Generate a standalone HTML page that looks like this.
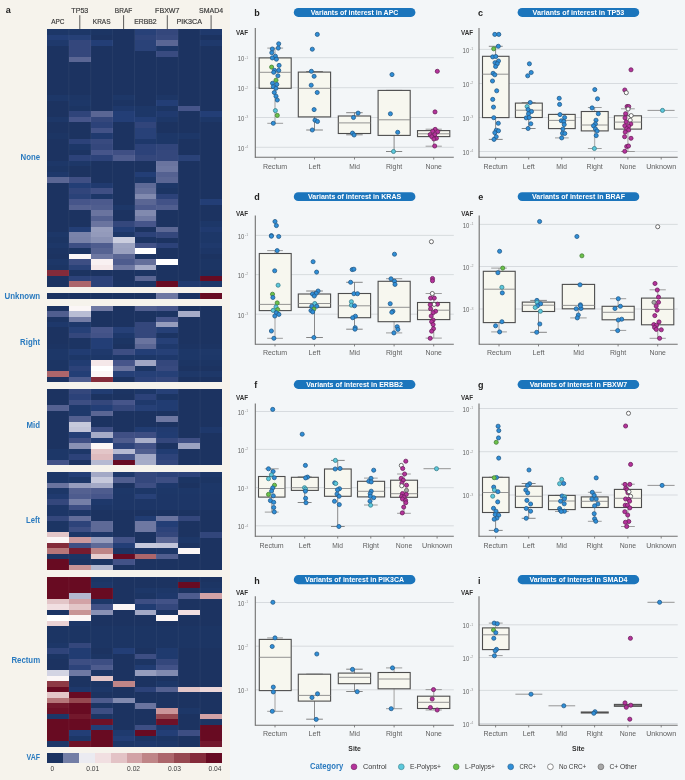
<!DOCTYPE html>
<html lang="en"><head><meta charset="utf-8"><title>Variants of interest by site</title>
<style>
html,body{margin:0;padding:0;background:#f3f6f8;}
body{width:685px;height:780px;overflow:hidden;}
svg{display:block;font-family:"Liberation Sans",Arial,sans-serif;}
.ax{fill:#5f5f5f;font-size:7.2px;}
.hl{fill:#2a7abf;font-size:8.3px;font-weight:bold;}
.gene{fill:#3c3c3c;font-size:7.6px;stroke:#3c3c3c;stroke-width:0.2px;}
.pl{fill:#222;font-size:9px;font-weight:bold;}
.vaf{fill:#333;font-size:7.2px;font-weight:bold;}
.pt{fill:#fff;font-size:7.8px;font-weight:bold;}
.lg{fill:#3a3a3a;font-size:7.2px;}
</style></head><body>
<svg width="685" height="780" viewBox="0 0 685 780">
<rect x="0" y="0" width="685" height="780" fill="#f3f6f8"/>
<rect x="0" y="0" width="230" height="780" fill="#f6f3ec"/>

<g shape-rendering="crispEdges">
<rect x="47.0" y="29.2" width="175.0" height="257.60" fill="#1c3361"/>
<rect x="47.00" y="29.20" width="43.75" height="5.53" fill="#1d3768"/>
<rect x="90.75" y="29.20" width="21.88" height="5.53" fill="#1c3564"/>
<rect x="134.50" y="29.20" width="21.88" height="5.53" fill="#284178"/>
<rect x="156.38" y="29.20" width="21.88" height="5.53" fill="#34477c"/>
<rect x="200.12" y="29.20" width="21.88" height="5.53" fill="#1f396c"/>
<rect x="47.00" y="34.68" width="21.88" height="5.53" fill="#233e76"/>
<rect x="68.88" y="34.68" width="21.88" height="5.53" fill="#264077"/>
<rect x="134.50" y="34.68" width="21.88" height="5.53" fill="#2f447a"/>
<rect x="156.38" y="34.68" width="21.88" height="5.53" fill="#384a7f"/>
<rect x="47.00" y="40.16" width="21.88" height="5.53" fill="#1f396c"/>
<rect x="68.88" y="40.16" width="21.88" height="5.53" fill="#34477c"/>
<rect x="90.75" y="40.16" width="21.88" height="5.53" fill="#233e76"/>
<rect x="134.50" y="40.16" width="21.88" height="5.53" fill="#2a4278"/>
<rect x="156.38" y="40.16" width="21.88" height="5.53" fill="#5a6694"/>
<rect x="200.12" y="40.16" width="21.88" height="5.53" fill="#1f396c"/>
<rect x="68.88" y="45.64" width="21.88" height="5.53" fill="#34477c"/>
<rect x="134.50" y="45.64" width="21.88" height="5.53" fill="#2a4278"/>
<rect x="156.38" y="45.64" width="21.88" height="5.53" fill="#1d3768"/>
<rect x="68.88" y="51.12" width="21.88" height="5.53" fill="#34477c"/>
<rect x="156.38" y="51.12" width="21.88" height="5.53" fill="#394b80"/>
<rect x="68.88" y="56.60" width="21.88" height="5.53" fill="#5a6694"/>
<rect x="47.00" y="94.97" width="21.88" height="5.53" fill="#1d3768"/>
<rect x="68.88" y="94.97" width="21.88" height="5.53" fill="#1d3666"/>
<rect x="112.62" y="94.97" width="21.88" height="5.53" fill="#1d3768"/>
<rect x="156.38" y="94.97" width="21.88" height="5.53" fill="#1d3666"/>
<rect x="68.88" y="100.45" width="21.88" height="5.53" fill="#1d3768"/>
<rect x="112.62" y="100.45" width="21.88" height="5.53" fill="#1c3463"/>
<rect x="156.38" y="100.45" width="21.88" height="5.53" fill="#233e76"/>
<rect x="68.88" y="105.93" width="21.88" height="5.53" fill="#1c3564"/>
<rect x="112.62" y="105.93" width="21.88" height="5.53" fill="#1e386b"/>
<rect x="134.50" y="105.93" width="21.88" height="5.53" fill="#1d3768"/>
<rect x="156.38" y="105.93" width="21.88" height="5.53" fill="#1c3564"/>
<rect x="178.25" y="105.93" width="21.88" height="5.53" fill="#46558a"/>
<rect x="68.88" y="111.41" width="21.88" height="5.53" fill="#2f447a"/>
<rect x="90.75" y="111.41" width="21.88" height="5.53" fill="#5a6694"/>
<rect x="112.62" y="111.41" width="21.88" height="5.53" fill="#233e76"/>
<rect x="134.50" y="111.41" width="21.88" height="5.53" fill="#1d3768"/>
<rect x="156.38" y="111.41" width="21.88" height="5.53" fill="#203a6f"/>
<rect x="200.12" y="111.41" width="21.88" height="5.53" fill="#233e76"/>
<rect x="47.00" y="116.89" width="21.88" height="5.53" fill="#1d3768"/>
<rect x="68.88" y="116.89" width="21.88" height="5.53" fill="#46558a"/>
<rect x="90.75" y="116.89" width="21.88" height="5.53" fill="#34477c"/>
<rect x="112.62" y="116.89" width="43.75" height="5.53" fill="#233e76"/>
<rect x="156.38" y="116.89" width="21.88" height="5.53" fill="#1d3768"/>
<rect x="200.12" y="116.89" width="21.88" height="5.53" fill="#1d3768"/>
<rect x="90.75" y="122.37" width="21.88" height="5.53" fill="#2c4279"/>
<rect x="134.50" y="122.37" width="21.88" height="5.53" fill="#31457b"/>
<rect x="90.75" y="127.86" width="21.88" height="5.53" fill="#425287"/>
<rect x="134.50" y="127.86" width="21.88" height="5.53" fill="#284178"/>
<rect x="47.00" y="133.34" width="21.88" height="5.53" fill="#1c3564"/>
<rect x="90.75" y="133.34" width="21.88" height="5.53" fill="#203a6f"/>
<rect x="134.50" y="133.34" width="21.88" height="5.53" fill="#284178"/>
<rect x="156.38" y="133.34" width="43.75" height="5.53" fill="#1d3768"/>
<rect x="68.88" y="138.82" width="21.88" height="5.53" fill="#2c4279"/>
<rect x="90.75" y="138.82" width="21.88" height="5.53" fill="#384a7f"/>
<rect x="134.50" y="138.82" width="21.88" height="5.53" fill="#1e386b"/>
<rect x="156.38" y="138.82" width="21.88" height="5.53" fill="#1d3768"/>
<rect x="68.88" y="144.30" width="21.88" height="5.53" fill="#1d3768"/>
<rect x="90.75" y="144.30" width="21.88" height="5.53" fill="#34477c"/>
<rect x="134.50" y="144.30" width="21.88" height="5.53" fill="#2c4279"/>
<rect x="156.38" y="144.30" width="21.88" height="5.53" fill="#31457b"/>
<rect x="68.88" y="149.78" width="21.88" height="5.53" fill="#1c3463"/>
<rect x="90.75" y="149.78" width="21.88" height="5.53" fill="#46558a"/>
<rect x="112.62" y="149.78" width="21.88" height="5.53" fill="#3f4f84"/>
<rect x="134.50" y="149.78" width="21.88" height="5.53" fill="#2c4279"/>
<rect x="156.38" y="149.78" width="21.88" height="5.53" fill="#34477c"/>
<rect x="68.88" y="155.26" width="43.75" height="5.53" fill="#2c4279"/>
<rect x="112.62" y="155.26" width="21.88" height="5.53" fill="#4e5c8e"/>
<rect x="134.50" y="155.26" width="43.75" height="5.53" fill="#34477c"/>
<rect x="178.25" y="155.26" width="21.88" height="5.53" fill="#2a4278"/>
<rect x="47.00" y="160.74" width="43.75" height="5.53" fill="#1d3768"/>
<rect x="156.38" y="160.74" width="21.88" height="5.53" fill="#6a749f"/>
<rect x="47.00" y="166.22" width="21.88" height="5.53" fill="#1c3564"/>
<rect x="156.38" y="166.22" width="21.88" height="5.53" fill="#6e78a2"/>
<rect x="47.00" y="171.70" width="21.88" height="5.53" fill="#1e386b"/>
<rect x="134.50" y="171.70" width="21.88" height="5.53" fill="#233e76"/>
<rect x="156.38" y="171.70" width="21.88" height="5.53" fill="#546191"/>
<rect x="47.00" y="177.18" width="21.88" height="5.53" fill="#5a6694"/>
<rect x="68.88" y="177.18" width="21.88" height="5.53" fill="#3f4f84"/>
<rect x="134.50" y="177.18" width="21.88" height="5.53" fill="#1d3768"/>
<rect x="156.38" y="177.18" width="21.88" height="5.53" fill="#5a6694"/>
<rect x="68.88" y="182.66" width="21.88" height="5.53" fill="#233e76"/>
<rect x="90.75" y="182.66" width="21.88" height="5.53" fill="#203a6f"/>
<rect x="134.50" y="182.66" width="21.88" height="5.53" fill="#5e6a97"/>
<rect x="156.38" y="182.66" width="21.88" height="5.53" fill="#1d3768"/>
<rect x="68.88" y="188.14" width="21.88" height="5.53" fill="#31457b"/>
<rect x="90.75" y="188.14" width="21.88" height="5.53" fill="#3f4f84"/>
<rect x="134.50" y="188.14" width="21.88" height="5.53" fill="#66719c"/>
<rect x="156.38" y="188.14" width="21.88" height="5.53" fill="#1c3564"/>
<rect x="68.88" y="193.63" width="21.88" height="5.53" fill="#2a4278"/>
<rect x="90.75" y="193.63" width="21.88" height="5.53" fill="#1d3768"/>
<rect x="134.50" y="193.63" width="21.88" height="5.53" fill="#818aaf"/>
<rect x="156.38" y="193.63" width="21.88" height="5.53" fill="#2c4279"/>
<rect x="68.88" y="199.11" width="21.88" height="5.53" fill="#46558a"/>
<rect x="90.75" y="199.11" width="21.88" height="5.53" fill="#4c5a8d"/>
<rect x="134.50" y="199.11" width="21.88" height="5.53" fill="#5a6694"/>
<rect x="156.38" y="199.11" width="21.88" height="5.53" fill="#425287"/>
<rect x="200.12" y="199.11" width="21.88" height="5.53" fill="#233e76"/>
<rect x="68.88" y="204.59" width="21.88" height="5.53" fill="#546191"/>
<rect x="90.75" y="204.59" width="21.88" height="5.53" fill="#505e8f"/>
<rect x="112.62" y="204.59" width="21.88" height="5.53" fill="#1d3768"/>
<rect x="134.50" y="204.59" width="21.88" height="5.53" fill="#4c5a8d"/>
<rect x="156.38" y="204.59" width="21.88" height="5.53" fill="#505e8f"/>
<rect x="90.75" y="210.07" width="21.88" height="5.53" fill="#6a749f"/>
<rect x="134.50" y="210.07" width="21.88" height="5.53" fill="#818aaf"/>
<rect x="90.75" y="215.55" width="21.88" height="5.53" fill="#546191"/>
<rect x="134.50" y="215.55" width="21.88" height="5.53" fill="#707aa4"/>
<rect x="90.75" y="221.03" width="21.88" height="5.53" fill="#6a749f"/>
<rect x="112.62" y="221.03" width="21.88" height="5.53" fill="#34477c"/>
<rect x="134.50" y="221.03" width="21.88" height="5.53" fill="#46558a"/>
<rect x="200.12" y="221.03" width="21.88" height="5.53" fill="#1d3768"/>
<rect x="68.88" y="226.51" width="21.88" height="5.53" fill="#233e76"/>
<rect x="90.75" y="226.51" width="21.88" height="5.53" fill="#969dbd"/>
<rect x="112.62" y="226.51" width="21.88" height="5.53" fill="#233e76"/>
<rect x="156.38" y="226.51" width="21.88" height="5.53" fill="#5c6895"/>
<rect x="200.12" y="226.51" width="21.88" height="5.53" fill="#203a6f"/>
<rect x="47.00" y="231.99" width="21.88" height="5.53" fill="#1d3768"/>
<rect x="68.88" y="231.99" width="21.88" height="5.53" fill="#7a83aa"/>
<rect x="90.75" y="231.99" width="21.88" height="5.53" fill="#939abb"/>
<rect x="112.62" y="231.99" width="21.88" height="5.53" fill="#1d3768"/>
<rect x="134.50" y="231.99" width="21.88" height="5.53" fill="#2c4279"/>
<rect x="156.38" y="231.99" width="21.88" height="5.53" fill="#34477c"/>
<rect x="200.12" y="231.99" width="21.88" height="5.53" fill="#1d3768"/>
<rect x="47.00" y="237.47" width="21.88" height="5.53" fill="#1c3564"/>
<rect x="68.88" y="237.47" width="21.88" height="5.53" fill="#7881a8"/>
<rect x="90.75" y="237.47" width="21.88" height="5.53" fill="#8991b4"/>
<rect x="112.62" y="237.47" width="21.88" height="5.53" fill="#cbcedf"/>
<rect x="134.50" y="237.47" width="21.88" height="5.53" fill="#1c3463"/>
<rect x="200.12" y="237.47" width="21.88" height="5.53" fill="#1d3768"/>
<rect x="47.00" y="242.95" width="21.88" height="5.53" fill="#1d3768"/>
<rect x="68.88" y="242.95" width="21.88" height="5.53" fill="#3d4e83"/>
<rect x="90.75" y="242.95" width="21.88" height="5.53" fill="#4e5c8e"/>
<rect x="112.62" y="242.95" width="21.88" height="5.53" fill="#9ca3c1"/>
<rect x="134.50" y="242.95" width="21.88" height="5.53" fill="#425287"/>
<rect x="156.38" y="242.95" width="21.88" height="5.53" fill="#2c4279"/>
<rect x="200.12" y="242.95" width="21.88" height="5.53" fill="#1f396c"/>
<rect x="47.00" y="248.43" width="21.88" height="5.53" fill="#1c3463"/>
<rect x="68.88" y="248.43" width="21.88" height="5.53" fill="#1c3462"/>
<rect x="90.75" y="248.43" width="21.88" height="5.53" fill="#566392"/>
<rect x="112.62" y="248.43" width="21.88" height="5.53" fill="#99a0bf"/>
<rect x="134.50" y="248.43" width="21.88" height="5.53" fill="#ffffff"/>
<rect x="200.12" y="248.43" width="21.88" height="5.53" fill="#1d3667"/>
<rect x="68.88" y="253.91" width="21.88" height="5.53" fill="#fbf6f6"/>
<rect x="90.75" y="253.91" width="21.88" height="5.53" fill="#6e78a2"/>
<rect x="112.62" y="253.91" width="21.88" height="5.53" fill="#5a6694"/>
<rect x="134.50" y="253.91" width="21.88" height="5.53" fill="#1c3463"/>
<rect x="47.00" y="259.40" width="21.88" height="5.53" fill="#1d3768"/>
<rect x="68.88" y="259.40" width="21.88" height="5.53" fill="#3d4e83"/>
<rect x="90.75" y="259.40" width="21.88" height="5.53" fill="#f9f1f2"/>
<rect x="112.62" y="259.40" width="21.88" height="5.53" fill="#4e5c8e"/>
<rect x="134.50" y="259.40" width="21.88" height="5.53" fill="#646f9b"/>
<rect x="156.38" y="259.40" width="21.88" height="5.53" fill="#ffffff"/>
<rect x="200.12" y="259.40" width="21.88" height="5.53" fill="#1c3564"/>
<rect x="47.00" y="264.88" width="21.88" height="5.53" fill="#1c3564"/>
<rect x="68.88" y="264.88" width="21.88" height="5.53" fill="#2a4278"/>
<rect x="90.75" y="264.88" width="21.88" height="5.53" fill="#f5e8e9"/>
<rect x="112.62" y="264.88" width="21.88" height="5.53" fill="#6e78a2"/>
<rect x="134.50" y="264.88" width="21.88" height="5.53" fill="#a6acc8"/>
<rect x="200.12" y="264.88" width="21.88" height="5.53" fill="#1c3564"/>
<rect x="47.00" y="270.36" width="21.88" height="5.53" fill="#842b3a"/>
<rect x="134.50" y="270.36" width="21.88" height="5.53" fill="#1c3463"/>
<rect x="68.88" y="275.84" width="43.75" height="5.53" fill="#2c4279"/>
<rect x="134.50" y="275.84" width="21.88" height="5.53" fill="#5a6694"/>
<rect x="200.12" y="275.84" width="21.88" height="5.53" fill="#680b22"/>
<rect x="68.88" y="281.32" width="21.88" height="5.53" fill="#ac666b"/>
<rect x="90.75" y="281.32" width="21.88" height="5.53" fill="#2c4279"/>
<rect x="112.62" y="281.32" width="43.75" height="5.53" fill="#1c3463"/>
<rect x="156.38" y="281.32" width="21.88" height="5.53" fill="#680b22"/>
<rect x="178.25" y="281.32" width="21.88" height="5.53" fill="#203a6f"/>
<rect x="200.12" y="281.32" width="21.88" height="5.53" fill="#1d3768"/>
<rect x="47.0" y="292.9" width="175.0" height="6.00" fill="#1c3361"/>
<rect x="156.38" y="292.90" width="21.88" height="6.05" fill="#6e78a2"/>
<rect x="178.25" y="292.90" width="21.88" height="6.05" fill="#1c3463"/>
<rect x="200.12" y="292.90" width="21.88" height="6.05" fill="#680b22"/>
<rect x="47.0" y="305.6" width="175.0" height="76.40" fill="#1c3361"/>
<rect x="68.88" y="305.60" width="21.88" height="5.51" fill="#fbf6f6"/>
<rect x="90.75" y="305.60" width="21.88" height="5.51" fill="#6e78a2"/>
<rect x="134.50" y="305.60" width="21.88" height="5.51" fill="#505e8f"/>
<rect x="156.38" y="305.60" width="21.88" height="5.51" fill="#46558a"/>
<rect x="47.00" y="311.06" width="21.88" height="5.51" fill="#505e8f"/>
<rect x="68.88" y="311.06" width="21.88" height="5.51" fill="#b9bdd4"/>
<rect x="156.38" y="311.06" width="21.88" height="5.51" fill="#1c3463"/>
<rect x="178.25" y="311.06" width="21.88" height="5.51" fill="#a6acc8"/>
<rect x="47.00" y="316.51" width="21.88" height="5.51" fill="#1c3463"/>
<rect x="68.88" y="316.51" width="21.88" height="5.51" fill="#737ca5"/>
<rect x="156.38" y="316.51" width="21.88" height="5.51" fill="#46558a"/>
<rect x="47.00" y="321.97" width="43.75" height="5.51" fill="#1e386b"/>
<rect x="134.50" y="321.97" width="21.88" height="5.51" fill="#34477c"/>
<rect x="156.38" y="321.97" width="21.88" height="5.51" fill="#969dbd"/>
<rect x="68.88" y="327.43" width="21.88" height="5.51" fill="#264077"/>
<rect x="90.75" y="327.43" width="21.88" height="5.51" fill="#46558a"/>
<rect x="112.62" y="327.43" width="21.88" height="5.51" fill="#264077"/>
<rect x="134.50" y="327.43" width="21.88" height="5.51" fill="#34477c"/>
<rect x="156.38" y="327.43" width="21.88" height="5.51" fill="#264077"/>
<rect x="68.88" y="332.89" width="21.88" height="5.51" fill="#34477c"/>
<rect x="90.75" y="332.89" width="21.88" height="5.51" fill="#425287"/>
<rect x="112.62" y="332.89" width="21.88" height="5.51" fill="#1e386b"/>
<rect x="134.50" y="332.89" width="21.88" height="5.51" fill="#34477c"/>
<rect x="156.38" y="332.89" width="21.88" height="5.51" fill="#1c3463"/>
<rect x="68.88" y="338.34" width="21.88" height="5.51" fill="#1c3463"/>
<rect x="90.75" y="338.34" width="21.88" height="5.51" fill="#233e76"/>
<rect x="112.62" y="338.34" width="21.88" height="5.51" fill="#1c3564"/>
<rect x="134.50" y="338.34" width="21.88" height="5.51" fill="#6a749f"/>
<rect x="156.38" y="338.34" width="21.88" height="5.51" fill="#264077"/>
<rect x="47.00" y="343.80" width="43.75" height="5.51" fill="#1c3463"/>
<rect x="90.75" y="343.80" width="21.88" height="5.51" fill="#233e76"/>
<rect x="134.50" y="343.80" width="21.88" height="5.51" fill="#5a6694"/>
<rect x="156.38" y="343.80" width="21.88" height="5.51" fill="#1f396c"/>
<rect x="178.25" y="343.80" width="43.75" height="5.51" fill="#1c3463"/>
<rect x="47.00" y="349.26" width="21.88" height="5.51" fill="#1d3768"/>
<rect x="68.88" y="349.26" width="21.88" height="5.51" fill="#213c72"/>
<rect x="90.75" y="349.26" width="21.88" height="5.51" fill="#1f396c"/>
<rect x="112.62" y="349.26" width="21.88" height="5.51" fill="#3d4e83"/>
<rect x="134.50" y="349.26" width="21.88" height="5.51" fill="#233e76"/>
<rect x="156.38" y="349.26" width="21.88" height="5.51" fill="#264077"/>
<rect x="178.25" y="349.26" width="21.88" height="5.51" fill="#1d3768"/>
<rect x="200.12" y="349.26" width="21.88" height="5.51" fill="#1e3869"/>
<rect x="47.00" y="354.71" width="109.38" height="5.51" fill="#1d3768"/>
<rect x="156.38" y="354.71" width="21.88" height="5.51" fill="#1e386b"/>
<rect x="178.25" y="354.71" width="43.75" height="5.51" fill="#1d3768"/>
<rect x="47.00" y="360.17" width="21.88" height="5.51" fill="#1c3564"/>
<rect x="68.88" y="360.17" width="21.88" height="5.51" fill="#213c72"/>
<rect x="90.75" y="360.17" width="21.88" height="5.51" fill="#f5e8e9"/>
<rect x="112.62" y="360.17" width="21.88" height="5.51" fill="#46558a"/>
<rect x="134.50" y="360.17" width="21.88" height="5.51" fill="#a0a6c4"/>
<rect x="156.38" y="360.17" width="21.88" height="5.51" fill="#34477c"/>
<rect x="178.25" y="360.17" width="43.75" height="5.51" fill="#1c3564"/>
<rect x="47.00" y="365.63" width="21.88" height="5.51" fill="#1c3564"/>
<rect x="68.88" y="365.63" width="21.88" height="5.51" fill="#2c4279"/>
<rect x="90.75" y="365.63" width="21.88" height="5.51" fill="#ffffff"/>
<rect x="112.62" y="365.63" width="21.88" height="5.51" fill="#6a749f"/>
<rect x="134.50" y="365.63" width="21.88" height="5.51" fill="#1c3564"/>
<rect x="156.38" y="365.63" width="21.88" height="5.51" fill="#384a7f"/>
<rect x="47.00" y="371.09" width="21.88" height="5.51" fill="#ac666b"/>
<rect x="68.88" y="371.09" width="21.88" height="5.51" fill="#233e76"/>
<rect x="90.75" y="371.09" width="21.88" height="5.51" fill="#fbf6f6"/>
<rect x="112.62" y="371.09" width="65.62" height="5.51" fill="#264077"/>
<rect x="178.25" y="371.09" width="43.75" height="5.51" fill="#1e3869"/>
<rect x="68.88" y="376.54" width="21.88" height="5.51" fill="#4e5c8e"/>
<rect x="90.75" y="376.54" width="21.88" height="5.51" fill="#842b3a"/>
<rect x="134.50" y="376.54" width="21.88" height="5.51" fill="#2d437a"/>
<rect x="156.38" y="376.54" width="21.88" height="5.51" fill="#34477c"/>
<rect x="47.0" y="388.8" width="175.0" height="76.40" fill="#1c3361"/>
<rect x="68.88" y="388.80" width="21.88" height="5.51" fill="#34477c"/>
<rect x="90.75" y="388.80" width="21.88" height="5.51" fill="#213c72"/>
<rect x="112.62" y="388.80" width="21.88" height="5.51" fill="#1c3463"/>
<rect x="134.50" y="388.80" width="21.88" height="5.51" fill="#1d3768"/>
<rect x="156.38" y="388.80" width="21.88" height="5.51" fill="#264077"/>
<rect x="68.88" y="394.26" width="21.88" height="5.51" fill="#2c4279"/>
<rect x="134.50" y="394.26" width="21.88" height="5.51" fill="#2c4279"/>
<rect x="156.38" y="394.26" width="21.88" height="5.51" fill="#1c3564"/>
<rect x="68.88" y="399.71" width="21.88" height="5.51" fill="#3d4e83"/>
<rect x="90.75" y="399.71" width="21.88" height="5.51" fill="#34477c"/>
<rect x="112.62" y="399.71" width="21.88" height="5.51" fill="#46558a"/>
<rect x="134.50" y="399.71" width="21.88" height="5.51" fill="#1f396c"/>
<rect x="156.38" y="399.71" width="21.88" height="5.51" fill="#213c72"/>
<rect x="47.00" y="405.17" width="21.88" height="5.51" fill="#546191"/>
<rect x="68.88" y="405.17" width="21.88" height="5.51" fill="#1e386b"/>
<rect x="90.75" y="405.17" width="21.88" height="5.51" fill="#233e76"/>
<rect x="112.62" y="405.17" width="21.88" height="5.51" fill="#34477c"/>
<rect x="134.50" y="405.17" width="21.88" height="5.51" fill="#264077"/>
<rect x="156.38" y="405.17" width="21.88" height="5.51" fill="#213c72"/>
<rect x="68.88" y="410.63" width="21.88" height="5.51" fill="#1e386b"/>
<rect x="90.75" y="410.63" width="21.88" height="5.51" fill="#5a6694"/>
<rect x="68.88" y="416.09" width="21.88" height="5.51" fill="#525f90"/>
<rect x="156.38" y="416.09" width="21.88" height="5.51" fill="#6e78a2"/>
<rect x="68.88" y="421.54" width="21.88" height="5.51" fill="#c6c9dc"/>
<rect x="68.88" y="427.00" width="21.88" height="5.51" fill="#c0c3d8"/>
<rect x="90.75" y="427.00" width="21.88" height="5.51" fill="#3d4e83"/>
<rect x="134.50" y="427.00" width="21.88" height="5.51" fill="#213c72"/>
<rect x="156.38" y="427.00" width="21.88" height="5.51" fill="#213b70"/>
<rect x="200.12" y="427.00" width="21.88" height="5.51" fill="#1e386b"/>
<rect x="68.88" y="432.46" width="21.88" height="5.51" fill="#233e76"/>
<rect x="90.75" y="432.46" width="21.88" height="5.51" fill="#a6acc8"/>
<rect x="112.62" y="432.46" width="21.88" height="5.51" fill="#3f4f84"/>
<rect x="134.50" y="432.46" width="21.88" height="5.51" fill="#3d4e83"/>
<rect x="156.38" y="432.46" width="21.88" height="5.51" fill="#213c72"/>
<rect x="68.88" y="437.91" width="21.88" height="5.51" fill="#3f4f84"/>
<rect x="90.75" y="437.91" width="21.88" height="5.51" fill="#233e76"/>
<rect x="112.62" y="437.91" width="21.88" height="5.51" fill="#4e5c8e"/>
<rect x="134.50" y="437.91" width="21.88" height="5.51" fill="#a9afca"/>
<rect x="156.38" y="437.91" width="21.88" height="5.51" fill="#34477c"/>
<rect x="178.25" y="437.91" width="21.88" height="5.51" fill="#3f4f84"/>
<rect x="68.88" y="443.37" width="21.88" height="5.51" fill="#8991b4"/>
<rect x="90.75" y="443.37" width="21.88" height="5.51" fill="#fbf6f6"/>
<rect x="112.62" y="443.37" width="21.88" height="5.51" fill="#2d437a"/>
<rect x="134.50" y="443.37" width="21.88" height="5.51" fill="#425287"/>
<rect x="178.25" y="443.37" width="21.88" height="5.51" fill="#9ca3c1"/>
<rect x="47.00" y="448.83" width="43.75" height="5.51" fill="#1d3768"/>
<rect x="90.75" y="448.83" width="21.88" height="5.51" fill="#e3c6c8"/>
<rect x="112.62" y="448.83" width="21.88" height="5.51" fill="#b6bad2"/>
<rect x="134.50" y="448.83" width="21.88" height="5.51" fill="#505e8f"/>
<rect x="156.38" y="448.83" width="21.88" height="5.51" fill="#213c72"/>
<rect x="47.00" y="454.29" width="21.88" height="5.51" fill="#1d3768"/>
<rect x="68.88" y="454.29" width="21.88" height="5.51" fill="#2c4279"/>
<rect x="90.75" y="454.29" width="21.88" height="5.51" fill="#debbbe"/>
<rect x="112.62" y="454.29" width="21.88" height="5.51" fill="#46558a"/>
<rect x="134.50" y="454.29" width="21.88" height="5.51" fill="#a3a9c6"/>
<rect x="156.38" y="454.29" width="21.88" height="5.51" fill="#2d437a"/>
<rect x="47.00" y="459.74" width="21.88" height="5.51" fill="#425287"/>
<rect x="90.75" y="459.74" width="21.88" height="5.51" fill="#b6bad2"/>
<rect x="112.62" y="459.74" width="21.88" height="5.51" fill="#680b22"/>
<rect x="134.50" y="459.74" width="21.88" height="5.51" fill="#a6acc8"/>
<rect x="156.38" y="459.74" width="21.88" height="5.51" fill="#34477c"/>
<rect x="47.0" y="471.8" width="175.0" height="98.50" fill="#1c3361"/>
<rect x="47.00" y="471.80" width="21.88" height="5.52" fill="#1d3768"/>
<rect x="68.88" y="471.80" width="21.88" height="5.52" fill="#233e76"/>
<rect x="90.75" y="471.80" width="21.88" height="5.52" fill="#a3a9c6"/>
<rect x="112.62" y="471.80" width="21.88" height="5.52" fill="#1e386b"/>
<rect x="134.50" y="471.80" width="21.88" height="5.52" fill="#34477c"/>
<rect x="156.38" y="471.80" width="43.75" height="5.52" fill="#2d437a"/>
<rect x="200.12" y="471.80" width="21.88" height="5.52" fill="#1d3768"/>
<rect x="47.00" y="477.27" width="43.75" height="5.52" fill="#1d3768"/>
<rect x="90.75" y="477.27" width="21.88" height="5.52" fill="#c6c9dc"/>
<rect x="112.62" y="477.27" width="21.88" height="5.52" fill="#505e8f"/>
<rect x="134.50" y="477.27" width="21.88" height="5.52" fill="#34477c"/>
<rect x="156.38" y="477.27" width="21.88" height="5.52" fill="#3d4e83"/>
<rect x="178.25" y="477.27" width="43.75" height="5.52" fill="#1c3564"/>
<rect x="47.00" y="482.74" width="21.88" height="5.52" fill="#6a749f"/>
<rect x="68.88" y="482.74" width="21.88" height="5.52" fill="#969dbd"/>
<rect x="90.75" y="482.74" width="21.88" height="5.52" fill="#a3a9c6"/>
<rect x="134.50" y="482.74" width="21.88" height="5.52" fill="#3d4e83"/>
<rect x="156.38" y="482.74" width="21.88" height="5.52" fill="#1e386b"/>
<rect x="200.12" y="482.74" width="21.88" height="5.52" fill="#1d3768"/>
<rect x="47.00" y="488.22" width="21.88" height="5.52" fill="#1d3768"/>
<rect x="68.88" y="488.22" width="21.88" height="5.52" fill="#546191"/>
<rect x="90.75" y="488.22" width="21.88" height="5.52" fill="#4e5c8e"/>
<rect x="112.62" y="488.22" width="109.38" height="5.52" fill="#1d3768"/>
<rect x="47.00" y="493.69" width="21.88" height="5.52" fill="#203a6f"/>
<rect x="68.88" y="493.69" width="21.88" height="5.52" fill="#4e5c8e"/>
<rect x="90.75" y="493.69" width="21.88" height="5.52" fill="#46558a"/>
<rect x="112.62" y="493.69" width="21.88" height="5.52" fill="#1d3667"/>
<rect x="134.50" y="493.69" width="21.88" height="5.52" fill="#284178"/>
<rect x="156.38" y="493.69" width="65.62" height="5.52" fill="#1d3667"/>
<rect x="47.00" y="499.16" width="21.88" height="5.52" fill="#34477c"/>
<rect x="68.88" y="499.16" width="21.88" height="5.52" fill="#757fa7"/>
<rect x="90.75" y="499.16" width="21.88" height="5.52" fill="#1e386b"/>
<rect x="112.62" y="499.16" width="109.38" height="5.52" fill="#1d3667"/>
<rect x="47.00" y="504.63" width="21.88" height="5.52" fill="#1d3667"/>
<rect x="68.88" y="504.63" width="21.88" height="5.52" fill="#3d4e83"/>
<rect x="90.75" y="504.63" width="131.25" height="5.52" fill="#1d3667"/>
<rect x="47.00" y="510.11" width="43.75" height="5.52" fill="#1d3667"/>
<rect x="47.00" y="515.58" width="21.88" height="5.52" fill="#34477c"/>
<rect x="68.88" y="515.58" width="21.88" height="5.52" fill="#626d9a"/>
<rect x="134.50" y="515.58" width="21.88" height="5.52" fill="#213c72"/>
<rect x="156.38" y="515.58" width="21.88" height="5.52" fill="#6a749f"/>
<rect x="178.25" y="515.58" width="21.88" height="5.52" fill="#34477c"/>
<rect x="47.00" y="521.05" width="21.88" height="5.52" fill="#1c3564"/>
<rect x="68.88" y="521.05" width="21.88" height="5.52" fill="#2d437a"/>
<rect x="90.75" y="521.05" width="21.88" height="5.52" fill="#5e6a97"/>
<rect x="134.50" y="521.05" width="21.88" height="5.52" fill="#6e78a2"/>
<rect x="156.38" y="521.05" width="21.88" height="5.52" fill="#233e76"/>
<rect x="47.00" y="526.52" width="21.88" height="5.52" fill="#1c3564"/>
<rect x="68.88" y="526.52" width="21.88" height="5.52" fill="#3d4e83"/>
<rect x="90.75" y="526.52" width="21.88" height="5.52" fill="#5e6a97"/>
<rect x="134.50" y="526.52" width="21.88" height="5.52" fill="#6e78a2"/>
<rect x="156.38" y="526.52" width="21.88" height="5.52" fill="#2d437a"/>
<rect x="47.00" y="531.99" width="21.88" height="5.52" fill="#e3c6c8"/>
<rect x="68.88" y="531.99" width="21.88" height="5.52" fill="#1d3667"/>
<rect x="90.75" y="531.99" width="21.88" height="5.52" fill="#1d3768"/>
<rect x="156.38" y="531.99" width="21.88" height="5.52" fill="#34477c"/>
<rect x="200.12" y="531.99" width="21.88" height="5.52" fill="#32467b"/>
<rect x="47.00" y="537.47" width="21.88" height="5.52" fill="#fbf6f6"/>
<rect x="68.88" y="537.47" width="21.88" height="5.52" fill="#cc999d"/>
<rect x="90.75" y="537.47" width="21.88" height="5.52" fill="#969dbd"/>
<rect x="112.62" y="537.47" width="21.88" height="5.52" fill="#425287"/>
<rect x="156.38" y="537.47" width="21.88" height="5.52" fill="#5a6694"/>
<rect x="178.25" y="537.47" width="21.88" height="5.52" fill="#1d3768"/>
<rect x="47.00" y="542.94" width="21.88" height="5.52" fill="#842b3a"/>
<rect x="68.88" y="542.94" width="21.88" height="5.52" fill="#3f4f84"/>
<rect x="90.75" y="542.94" width="21.88" height="5.52" fill="#5e6a97"/>
<rect x="112.62" y="542.94" width="21.88" height="5.52" fill="#233e76"/>
<rect x="134.50" y="542.94" width="21.88" height="5.52" fill="#c6c9dc"/>
<rect x="156.38" y="542.94" width="21.88" height="5.52" fill="#c3c6da"/>
<rect x="47.00" y="548.41" width="21.88" height="5.52" fill="#b67679"/>
<rect x="68.88" y="548.41" width="21.88" height="5.52" fill="#761b2e"/>
<rect x="90.75" y="548.41" width="21.88" height="5.52" fill="#bf8587"/>
<rect x="112.62" y="548.41" width="21.88" height="5.52" fill="#1c3564"/>
<rect x="134.50" y="548.41" width="43.75" height="5.52" fill="#1d3768"/>
<rect x="178.25" y="548.41" width="21.88" height="5.52" fill="#fbf6f6"/>
<rect x="47.00" y="553.88" width="43.75" height="5.52" fill="#1c3564"/>
<rect x="90.75" y="553.88" width="21.88" height="5.52" fill="#e7ced0"/>
<rect x="112.62" y="553.88" width="21.88" height="5.52" fill="#680b22"/>
<rect x="134.50" y="553.88" width="21.88" height="5.52" fill="#ac666b"/>
<rect x="156.38" y="553.88" width="21.88" height="5.52" fill="#505e8f"/>
<rect x="47.00" y="559.36" width="21.88" height="5.52" fill="#680b22"/>
<rect x="90.75" y="559.36" width="21.88" height="5.52" fill="#1c3564"/>
<rect x="112.62" y="559.36" width="21.88" height="5.52" fill="#425287"/>
<rect x="47.00" y="564.83" width="21.88" height="5.52" fill="#680b22"/>
<rect x="68.88" y="564.83" width="21.88" height="5.52" fill="#c89496"/>
<rect x="90.75" y="564.83" width="21.88" height="5.52" fill="#b3b8d0"/>
<rect x="47.0" y="577.0" width="175.0" height="169.80" fill="#1c3361"/>
<rect x="47.00" y="577.00" width="43.75" height="5.53" fill="#680b22"/>
<rect x="90.75" y="577.00" width="21.88" height="5.53" fill="#1c3564"/>
<rect x="47.00" y="582.48" width="43.75" height="5.53" fill="#680b22"/>
<rect x="90.75" y="582.48" width="21.88" height="5.53" fill="#1d3768"/>
<rect x="178.25" y="582.48" width="21.88" height="5.53" fill="#680b22"/>
<rect x="200.12" y="582.48" width="21.88" height="5.53" fill="#1c3564"/>
<rect x="47.00" y="587.95" width="65.62" height="5.53" fill="#680b22"/>
<rect x="134.50" y="587.95" width="43.75" height="5.53" fill="#1d3768"/>
<rect x="200.12" y="587.95" width="21.88" height="5.53" fill="#1d3768"/>
<rect x="47.00" y="593.43" width="21.88" height="5.53" fill="#680b22"/>
<rect x="68.88" y="593.43" width="21.88" height="5.53" fill="#b3b8d0"/>
<rect x="90.75" y="593.43" width="21.88" height="5.53" fill="#680b22"/>
<rect x="134.50" y="593.43" width="21.88" height="5.53" fill="#1c3564"/>
<rect x="156.38" y="593.43" width="21.88" height="5.53" fill="#1e386b"/>
<rect x="178.25" y="593.43" width="21.88" height="5.53" fill="#4e5c8e"/>
<rect x="200.12" y="593.43" width="21.88" height="5.53" fill="#d2a2a6"/>
<rect x="47.00" y="598.91" width="21.88" height="5.53" fill="#e3c6c8"/>
<rect x="68.88" y="598.91" width="21.88" height="5.53" fill="#d2a2a6"/>
<rect x="90.75" y="598.91" width="21.88" height="5.53" fill="#1d3768"/>
<rect x="134.50" y="598.91" width="21.88" height="5.53" fill="#3d4e83"/>
<rect x="156.38" y="598.91" width="21.88" height="5.53" fill="#425287"/>
<rect x="47.00" y="604.39" width="21.88" height="5.53" fill="#f1dfe1"/>
<rect x="68.88" y="604.39" width="21.88" height="5.53" fill="#e3c6c8"/>
<rect x="90.75" y="604.39" width="21.88" height="5.53" fill="#425287"/>
<rect x="112.62" y="604.39" width="21.88" height="5.53" fill="#fbf6f6"/>
<rect x="134.50" y="604.39" width="21.88" height="5.53" fill="#213c72"/>
<rect x="156.38" y="604.39" width="21.88" height="5.53" fill="#34477c"/>
<rect x="47.00" y="609.86" width="21.88" height="5.53" fill="#1c3564"/>
<rect x="68.88" y="609.86" width="21.88" height="5.53" fill="#c89496"/>
<rect x="90.75" y="609.86" width="21.88" height="5.53" fill="#8991b4"/>
<rect x="134.50" y="609.86" width="21.88" height="5.53" fill="#a3a9c6"/>
<rect x="178.25" y="609.86" width="21.88" height="5.53" fill="#f1dfe1"/>
<rect x="47.00" y="615.34" width="21.88" height="5.53" fill="#ffffff"/>
<rect x="68.88" y="615.34" width="21.88" height="5.53" fill="#fbf6f6"/>
<rect x="156.38" y="615.34" width="21.88" height="5.53" fill="#fbf6f6"/>
<rect x="47.00" y="620.82" width="21.88" height="5.53" fill="#ead2d4"/>
<rect x="68.88" y="620.82" width="21.88" height="5.53" fill="#1d3768"/>
<rect x="47.00" y="626.30" width="175.00" height="5.53" fill="#1c3564"/>
<rect x="47.00" y="631.77" width="175.00" height="5.53" fill="#1c3564"/>
<rect x="47.00" y="637.25" width="175.00" height="5.53" fill="#1c3564"/>
<rect x="47.00" y="642.73" width="21.88" height="5.53" fill="#1d3768"/>
<rect x="68.88" y="642.73" width="21.88" height="5.53" fill="#34477c"/>
<rect x="90.75" y="642.73" width="131.25" height="5.53" fill="#1c3564"/>
<rect x="47.00" y="648.21" width="21.88" height="5.53" fill="#2f447a"/>
<rect x="68.88" y="648.21" width="21.88" height="5.53" fill="#213c72"/>
<rect x="112.62" y="648.21" width="21.88" height="5.53" fill="#233e76"/>
<rect x="156.38" y="648.21" width="21.88" height="5.53" fill="#1f3a6e"/>
<rect x="47.00" y="653.68" width="21.88" height="5.53" fill="#1c3564"/>
<rect x="68.88" y="653.68" width="21.88" height="5.53" fill="#213c72"/>
<rect x="90.75" y="653.68" width="21.88" height="5.53" fill="#1c3564"/>
<rect x="134.50" y="653.68" width="21.88" height="5.53" fill="#3d4e83"/>
<rect x="156.38" y="653.68" width="21.88" height="5.53" fill="#1f3a6e"/>
<rect x="68.88" y="659.16" width="43.75" height="5.53" fill="#3d4e83"/>
<rect x="134.50" y="659.16" width="21.88" height="5.53" fill="#1c3564"/>
<rect x="156.38" y="659.16" width="21.88" height="5.53" fill="#34477c"/>
<rect x="68.88" y="664.64" width="21.88" height="5.53" fill="#2d437a"/>
<rect x="90.75" y="664.64" width="21.88" height="5.53" fill="#4e5c8e"/>
<rect x="134.50" y="664.64" width="21.88" height="5.53" fill="#213c72"/>
<rect x="156.38" y="664.64" width="21.88" height="5.53" fill="#425287"/>
<rect x="47.00" y="670.12" width="21.88" height="5.53" fill="#d3d4e3"/>
<rect x="68.88" y="670.12" width="21.88" height="5.53" fill="#6e78a2"/>
<rect x="90.75" y="670.12" width="21.88" height="5.53" fill="#1c3564"/>
<rect x="134.50" y="670.12" width="21.88" height="5.53" fill="#969dbd"/>
<rect x="156.38" y="670.12" width="21.88" height="5.53" fill="#818aaf"/>
<rect x="47.00" y="675.59" width="21.88" height="5.53" fill="#fbf6f6"/>
<rect x="90.75" y="675.59" width="21.88" height="5.53" fill="#e3c6c8"/>
<rect x="47.00" y="681.07" width="21.88" height="5.53" fill="#8d3a45"/>
<rect x="90.75" y="681.07" width="21.88" height="5.53" fill="#1c3564"/>
<rect x="112.62" y="681.07" width="21.88" height="5.53" fill="#bf8587"/>
<rect x="156.38" y="681.07" width="21.88" height="5.53" fill="#1d3768"/>
<rect x="47.00" y="686.55" width="21.88" height="5.53" fill="#680b22"/>
<rect x="68.88" y="686.55" width="21.88" height="5.53" fill="#1e386b"/>
<rect x="90.75" y="686.55" width="21.88" height="5.53" fill="#1d3768"/>
<rect x="134.50" y="686.55" width="21.88" height="5.53" fill="#2c4279"/>
<rect x="156.38" y="686.55" width="21.88" height="5.53" fill="#546191"/>
<rect x="178.25" y="686.55" width="21.88" height="5.53" fill="#e3c6c8"/>
<rect x="200.12" y="686.55" width="21.88" height="5.53" fill="#edd8da"/>
<rect x="47.00" y="692.03" width="21.88" height="5.53" fill="#e3c6c8"/>
<rect x="68.88" y="692.03" width="21.88" height="5.53" fill="#680b22"/>
<rect x="47.00" y="697.50" width="21.88" height="5.53" fill="#b67679"/>
<rect x="68.88" y="697.50" width="21.88" height="5.53" fill="#964850"/>
<rect x="90.75" y="697.50" width="21.88" height="5.53" fill="#4e5c8e"/>
<rect x="112.62" y="697.50" width="21.88" height="5.53" fill="#818aaf"/>
<rect x="47.00" y="702.98" width="21.88" height="5.53" fill="#73182c"/>
<rect x="68.88" y="702.98" width="21.88" height="5.53" fill="#680b22"/>
<rect x="90.75" y="702.98" width="21.88" height="5.53" fill="#1c3564"/>
<rect x="134.50" y="702.98" width="21.88" height="5.53" fill="#6a749f"/>
<rect x="47.00" y="708.46" width="21.88" height="5.53" fill="#6e1127"/>
<rect x="68.88" y="708.46" width="21.88" height="5.53" fill="#680b22"/>
<rect x="90.75" y="708.46" width="21.88" height="5.53" fill="#3d4e83"/>
<rect x="156.38" y="708.46" width="21.88" height="5.53" fill="#ca969a"/>
<rect x="178.25" y="708.46" width="21.88" height="5.53" fill="#1d3768"/>
<rect x="47.00" y="713.94" width="21.88" height="5.53" fill="#1d3768"/>
<rect x="68.88" y="713.94" width="21.88" height="5.53" fill="#73182c"/>
<rect x="90.75" y="713.94" width="21.88" height="5.53" fill="#1c3564"/>
<rect x="156.38" y="713.94" width="21.88" height="5.53" fill="#964850"/>
<rect x="200.12" y="713.94" width="21.88" height="5.53" fill="#d2a2a6"/>
<rect x="47.00" y="719.41" width="43.75" height="5.53" fill="#680b22"/>
<rect x="90.75" y="719.41" width="21.88" height="5.53" fill="#6e1127"/>
<rect x="156.38" y="719.41" width="21.88" height="5.53" fill="#6e1127"/>
<rect x="200.12" y="719.41" width="21.88" height="5.53" fill="#1c3564"/>
<rect x="47.00" y="724.89" width="43.75" height="5.53" fill="#680b22"/>
<rect x="90.75" y="724.89" width="21.88" height="5.53" fill="#233e76"/>
<rect x="134.50" y="724.89" width="21.88" height="5.53" fill="#3d4e83"/>
<rect x="156.38" y="724.89" width="21.88" height="5.53" fill="#1e386b"/>
<rect x="200.12" y="724.89" width="21.88" height="5.53" fill="#680b22"/>
<rect x="47.00" y="730.37" width="21.88" height="5.53" fill="#680b22"/>
<rect x="68.88" y="730.37" width="21.88" height="5.53" fill="#233e76"/>
<rect x="90.75" y="730.37" width="21.88" height="5.53" fill="#680b22"/>
<rect x="112.62" y="730.37" width="21.88" height="5.53" fill="#1f3a6e"/>
<rect x="134.50" y="730.37" width="21.88" height="5.53" fill="#680b22"/>
<rect x="156.38" y="730.37" width="21.88" height="5.53" fill="#233e76"/>
<rect x="178.25" y="730.37" width="21.88" height="5.53" fill="#3d4e83"/>
<rect x="200.12" y="730.37" width="21.88" height="5.53" fill="#680b22"/>
<rect x="47.00" y="735.85" width="21.88" height="5.53" fill="#680b22"/>
<rect x="68.88" y="735.85" width="21.88" height="5.53" fill="#1d3768"/>
<rect x="90.75" y="735.85" width="21.88" height="5.53" fill="#680b22"/>
<rect x="112.62" y="735.85" width="21.88" height="5.53" fill="#233e76"/>
<rect x="134.50" y="735.85" width="43.75" height="5.53" fill="#1c3564"/>
<rect x="200.12" y="735.85" width="21.88" height="5.53" fill="#680b22"/>
<rect x="47.00" y="741.32" width="21.88" height="5.53" fill="#1d3768"/>
<rect x="68.88" y="741.32" width="21.88" height="5.53" fill="#6e1127"/>
<rect x="90.75" y="741.32" width="21.88" height="5.53" fill="#680b22"/>
<rect x="112.62" y="741.32" width="21.88" height="5.53" fill="#1d3768"/>
<rect x="134.50" y="741.32" width="21.88" height="5.53" fill="#1e386b"/>
<rect x="156.38" y="741.32" width="21.88" height="5.53" fill="#1d3768"/>
<rect x="200.12" y="741.32" width="21.88" height="5.53" fill="#73182c"/>
</g>
<line x1="68.88" y1="29.2" x2="68.88" y2="286.8" stroke="#ffffff" stroke-opacity="0.09" stroke-width="0.6"/>
<line x1="90.75" y1="29.2" x2="90.75" y2="286.8" stroke="#ffffff" stroke-opacity="0.09" stroke-width="0.6"/>
<line x1="112.62" y1="29.2" x2="112.62" y2="286.8" stroke="#ffffff" stroke-opacity="0.09" stroke-width="0.6"/>
<line x1="134.50" y1="29.2" x2="134.50" y2="286.8" stroke="#ffffff" stroke-opacity="0.09" stroke-width="0.6"/>
<line x1="156.38" y1="29.2" x2="156.38" y2="286.8" stroke="#ffffff" stroke-opacity="0.09" stroke-width="0.6"/>
<line x1="178.25" y1="29.2" x2="178.25" y2="286.8" stroke="#ffffff" stroke-opacity="0.09" stroke-width="0.6"/>
<line x1="200.12" y1="29.2" x2="200.12" y2="286.8" stroke="#ffffff" stroke-opacity="0.09" stroke-width="0.6"/>
<line x1="68.88" y1="292.9" x2="68.88" y2="298.9" stroke="#ffffff" stroke-opacity="0.09" stroke-width="0.6"/>
<line x1="90.75" y1="292.9" x2="90.75" y2="298.9" stroke="#ffffff" stroke-opacity="0.09" stroke-width="0.6"/>
<line x1="112.62" y1="292.9" x2="112.62" y2="298.9" stroke="#ffffff" stroke-opacity="0.09" stroke-width="0.6"/>
<line x1="134.50" y1="292.9" x2="134.50" y2="298.9" stroke="#ffffff" stroke-opacity="0.09" stroke-width="0.6"/>
<line x1="156.38" y1="292.9" x2="156.38" y2="298.9" stroke="#ffffff" stroke-opacity="0.09" stroke-width="0.6"/>
<line x1="178.25" y1="292.9" x2="178.25" y2="298.9" stroke="#ffffff" stroke-opacity="0.09" stroke-width="0.6"/>
<line x1="200.12" y1="292.9" x2="200.12" y2="298.9" stroke="#ffffff" stroke-opacity="0.09" stroke-width="0.6"/>
<line x1="68.88" y1="305.6" x2="68.88" y2="382.0" stroke="#ffffff" stroke-opacity="0.09" stroke-width="0.6"/>
<line x1="90.75" y1="305.6" x2="90.75" y2="382.0" stroke="#ffffff" stroke-opacity="0.09" stroke-width="0.6"/>
<line x1="112.62" y1="305.6" x2="112.62" y2="382.0" stroke="#ffffff" stroke-opacity="0.09" stroke-width="0.6"/>
<line x1="134.50" y1="305.6" x2="134.50" y2="382.0" stroke="#ffffff" stroke-opacity="0.09" stroke-width="0.6"/>
<line x1="156.38" y1="305.6" x2="156.38" y2="382.0" stroke="#ffffff" stroke-opacity="0.09" stroke-width="0.6"/>
<line x1="178.25" y1="305.6" x2="178.25" y2="382.0" stroke="#ffffff" stroke-opacity="0.09" stroke-width="0.6"/>
<line x1="200.12" y1="305.6" x2="200.12" y2="382.0" stroke="#ffffff" stroke-opacity="0.09" stroke-width="0.6"/>
<line x1="68.88" y1="388.8" x2="68.88" y2="465.2" stroke="#ffffff" stroke-opacity="0.09" stroke-width="0.6"/>
<line x1="90.75" y1="388.8" x2="90.75" y2="465.2" stroke="#ffffff" stroke-opacity="0.09" stroke-width="0.6"/>
<line x1="112.62" y1="388.8" x2="112.62" y2="465.2" stroke="#ffffff" stroke-opacity="0.09" stroke-width="0.6"/>
<line x1="134.50" y1="388.8" x2="134.50" y2="465.2" stroke="#ffffff" stroke-opacity="0.09" stroke-width="0.6"/>
<line x1="156.38" y1="388.8" x2="156.38" y2="465.2" stroke="#ffffff" stroke-opacity="0.09" stroke-width="0.6"/>
<line x1="178.25" y1="388.8" x2="178.25" y2="465.2" stroke="#ffffff" stroke-opacity="0.09" stroke-width="0.6"/>
<line x1="200.12" y1="388.8" x2="200.12" y2="465.2" stroke="#ffffff" stroke-opacity="0.09" stroke-width="0.6"/>
<line x1="68.88" y1="471.8" x2="68.88" y2="570.3" stroke="#ffffff" stroke-opacity="0.09" stroke-width="0.6"/>
<line x1="90.75" y1="471.8" x2="90.75" y2="570.3" stroke="#ffffff" stroke-opacity="0.09" stroke-width="0.6"/>
<line x1="112.62" y1="471.8" x2="112.62" y2="570.3" stroke="#ffffff" stroke-opacity="0.09" stroke-width="0.6"/>
<line x1="134.50" y1="471.8" x2="134.50" y2="570.3" stroke="#ffffff" stroke-opacity="0.09" stroke-width="0.6"/>
<line x1="156.38" y1="471.8" x2="156.38" y2="570.3" stroke="#ffffff" stroke-opacity="0.09" stroke-width="0.6"/>
<line x1="178.25" y1="471.8" x2="178.25" y2="570.3" stroke="#ffffff" stroke-opacity="0.09" stroke-width="0.6"/>
<line x1="200.12" y1="471.8" x2="200.12" y2="570.3" stroke="#ffffff" stroke-opacity="0.09" stroke-width="0.6"/>
<line x1="68.88" y1="577.0" x2="68.88" y2="746.8" stroke="#ffffff" stroke-opacity="0.09" stroke-width="0.6"/>
<line x1="90.75" y1="577.0" x2="90.75" y2="746.8" stroke="#ffffff" stroke-opacity="0.09" stroke-width="0.6"/>
<line x1="112.62" y1="577.0" x2="112.62" y2="746.8" stroke="#ffffff" stroke-opacity="0.09" stroke-width="0.6"/>
<line x1="134.50" y1="577.0" x2="134.50" y2="746.8" stroke="#ffffff" stroke-opacity="0.09" stroke-width="0.6"/>
<line x1="156.38" y1="577.0" x2="156.38" y2="746.8" stroke="#ffffff" stroke-opacity="0.09" stroke-width="0.6"/>
<line x1="178.25" y1="577.0" x2="178.25" y2="746.8" stroke="#ffffff" stroke-opacity="0.09" stroke-width="0.6"/>
<line x1="200.12" y1="577.0" x2="200.12" y2="746.8" stroke="#ffffff" stroke-opacity="0.09" stroke-width="0.6"/>
<text class="hl" x="40.1" y="160.0" text-anchor="end" textLength="19.5" lengthAdjust="spacingAndGlyphs">None</text>
<text class="hl" x="40.1" y="298.5" text-anchor="end" textLength="35.5" lengthAdjust="spacingAndGlyphs">Unknown</text>
<text class="hl" x="40.1" y="344.9" text-anchor="end" textLength="20.0" lengthAdjust="spacingAndGlyphs">Right</text>
<text class="hl" x="40.1" y="427.9" text-anchor="end" textLength="13.5" lengthAdjust="spacingAndGlyphs">Mid</text>
<text class="hl" x="40.1" y="522.7" text-anchor="end" textLength="14.1" lengthAdjust="spacingAndGlyphs">Left</text>
<text class="hl" x="40.1" y="662.7" text-anchor="end" textLength="28.7" lengthAdjust="spacingAndGlyphs">Rectum</text>
<text class="hl" x="40" y="760.4" text-anchor="end" textLength="13.5" lengthAdjust="spacingAndGlyphs">VAF</text>
<text class="gene" x="57.9" y="23.9" text-anchor="middle" textLength="13.3" lengthAdjust="spacingAndGlyphs">APC</text>
<text class="gene" x="79.8" y="13.3" text-anchor="middle" textLength="17.0" lengthAdjust="spacingAndGlyphs">TP53</text>
<line x1="79.8" y1="15.2" x2="79.8" y2="29.2" stroke="#484848" stroke-width="0.9"/>
<text class="gene" x="101.7" y="23.9" text-anchor="middle" textLength="17.7" lengthAdjust="spacingAndGlyphs">KRAS</text>
<text class="gene" x="123.6" y="13.3" text-anchor="middle" textLength="17.5" lengthAdjust="spacingAndGlyphs">BRAF</text>
<line x1="123.6" y1="15.2" x2="123.6" y2="29.2" stroke="#484848" stroke-width="0.9"/>
<text class="gene" x="145.4" y="23.9" text-anchor="middle" textLength="22.5" lengthAdjust="spacingAndGlyphs">ERBB2</text>
<text class="gene" x="167.3" y="13.3" text-anchor="middle" textLength="24.5" lengthAdjust="spacingAndGlyphs">FBXW7</text>
<line x1="167.3" y1="15.2" x2="167.3" y2="29.2" stroke="#484848" stroke-width="0.9"/>
<text class="gene" x="189.2" y="23.9" text-anchor="middle" textLength="25.5" lengthAdjust="spacingAndGlyphs">PIK3CA</text>
<text class="gene" x="211.1" y="13.3" text-anchor="middle" textLength="24.0" lengthAdjust="spacingAndGlyphs">SMAD4</text>
<line x1="211.1" y1="15.2" x2="211.1" y2="29.2" stroke="#484848" stroke-width="0.9"/>
<text class="pl" x="5.7" y="12.9">a</text>
<g shape-rendering="crispEdges">
<rect x="47.00" y="752.9" width="15.96" height="9.8" fill="#1c3361"/>
<rect x="62.91" y="752.9" width="15.96" height="9.8" fill="#737ea6"/>
<rect x="78.82" y="752.9" width="15.96" height="9.8" fill="#ebebf1"/>
<rect x="94.73" y="752.9" width="15.96" height="9.8" fill="#f1dfe1"/>
<rect x="110.64" y="752.9" width="15.96" height="9.8" fill="#e3c3c6"/>
<rect x="126.55" y="752.9" width="15.96" height="9.8" fill="#d2a2a6"/>
<rect x="142.45" y="752.9" width="15.96" height="9.8" fill="#bf8587"/>
<rect x="158.36" y="752.9" width="15.96" height="9.8" fill="#ac666b"/>
<rect x="174.27" y="752.9" width="15.96" height="9.8" fill="#964850"/>
<rect x="190.18" y="752.9" width="15.96" height="9.8" fill="#842b3a"/>
<rect x="206.09" y="752.9" width="15.96" height="9.8" fill="#680b22"/>
</g>
<text class="ax" x="52.3" y="771" text-anchor="middle" style="fill:#3a3a3a;font-size:7.5px" textLength="3.6" lengthAdjust="spacingAndGlyphs">0</text>
<text class="ax" x="92.8" y="771" text-anchor="middle" style="fill:#3a3a3a;font-size:7.5px" textLength="13.0" lengthAdjust="spacingAndGlyphs">0.01</text>
<text class="ax" x="133.6" y="771" text-anchor="middle" style="fill:#3a3a3a;font-size:7.5px" textLength="13.0" lengthAdjust="spacingAndGlyphs">0.02</text>
<text class="ax" x="174.4" y="771" text-anchor="middle" style="fill:#3a3a3a;font-size:7.5px" textLength="13.0" lengthAdjust="spacingAndGlyphs">0.03</text>
<text class="ax" x="215.0" y="771" text-anchor="middle" style="fill:#3a3a3a;font-size:7.5px" textLength="13.0" lengthAdjust="spacingAndGlyphs">0.04</text>
<rect x="293.8" y="8.0" width="121.6" height="8.9" rx="4.45" fill="#1b75bc"/>
<text class="pt" x="354.6" y="14.70" text-anchor="middle" textLength="87.6" lengthAdjust="spacingAndGlyphs">Variants of interest in APC</text>
<text class="pl" x="254.3" y="16.2">b</text>
<text class="vaf" x="248.2" y="35.2" text-anchor="end" textLength="12.1" lengthAdjust="spacingAndGlyphs">VAF</text>
<line x1="255.3" y1="57.7" x2="453.8" y2="57.7" stroke="#cfd4d8" stroke-width="0.8"/>
<text class="ax" x="244.3" y="61.1" text-anchor="end" textLength="6.6" lengthAdjust="spacingAndGlyphs">10</text>
<text x="245.1" y="58.5" font-size="4.2px" fill="#9a9a9a" textLength="3.2" lengthAdjust="spacingAndGlyphs">-1</text>
<line x1="255.3" y1="87.7" x2="453.8" y2="87.7" stroke="#cfd4d8" stroke-width="0.8"/>
<text class="ax" x="244.3" y="91.1" text-anchor="end" textLength="6.6" lengthAdjust="spacingAndGlyphs">10</text>
<text x="245.1" y="88.5" font-size="4.2px" fill="#9a9a9a" textLength="3.2" lengthAdjust="spacingAndGlyphs">-2</text>
<line x1="255.3" y1="117.5" x2="453.8" y2="117.5" stroke="#cfd4d8" stroke-width="0.8"/>
<text class="ax" x="244.3" y="120.9" text-anchor="end" textLength="6.6" lengthAdjust="spacingAndGlyphs">10</text>
<text x="245.1" y="118.3" font-size="4.2px" fill="#9a9a9a" textLength="3.2" lengthAdjust="spacingAndGlyphs">-3</text>
<line x1="255.3" y1="147.3" x2="453.8" y2="147.3" stroke="#cfd4d8" stroke-width="0.8"/>
<text class="ax" x="244.3" y="150.7" text-anchor="end" textLength="6.6" lengthAdjust="spacingAndGlyphs">10</text>
<text x="245.1" y="148.1" font-size="4.2px" fill="#9a9a9a" textLength="3.2" lengthAdjust="spacingAndGlyphs">-4</text>
<line x1="275.0" y1="48.1" x2="275.0" y2="123.3" stroke="#b4b4b4" stroke-width="1.3"/>
<line x1="267.3" y1="48.1" x2="283.1" y2="48.1" stroke="#8c8c8c" stroke-width="0.85"/>
<line x1="267.3" y1="123.3" x2="283.1" y2="123.3" stroke="#8c8c8c" stroke-width="0.85"/>
<rect x="259.1" y="57.9" width="32.1" height="30.4" fill="#f7f7ef" stroke="#4d4d4d" stroke-width="1.1"/>
<line x1="259.1" y1="72.3" x2="291.2" y2="72.3" stroke="#888" stroke-width="0.9"/>
<circle cx="278.7" cy="43.8" r="2.05" fill="#2f8fd8" stroke="#245a88" stroke-width="0.8"/>
<circle cx="272.3" cy="49.0" r="2.05" fill="#2f8fd8" stroke="#245a88" stroke-width="0.8"/>
<circle cx="278.3" cy="48.1" r="2.05" fill="#2f8fd8" stroke="#245a88" stroke-width="0.8"/>
<circle cx="271.8" cy="52.7" r="2.05" fill="#2f8fd8" stroke="#245a88" stroke-width="0.8"/>
<circle cx="275.4" cy="56.2" r="2.05" fill="#2f8fd8" stroke="#245a88" stroke-width="0.8"/>
<circle cx="272.3" cy="57.9" r="2.05" fill="#2f8fd8" stroke="#245a88" stroke-width="0.8"/>
<circle cx="276.4" cy="59.2" r="2.05" fill="#2f8fd8" stroke="#245a88" stroke-width="0.8"/>
<circle cx="279.1" cy="65.4" r="2.05" fill="#2f8fd8" stroke="#245a88" stroke-width="0.8"/>
<circle cx="271.6" cy="67.1" r="2.05" fill="#6cc24a" stroke="#457f38" stroke-width="0.8"/>
<circle cx="274.5" cy="70.4" r="2.05" fill="#2f8fd8" stroke="#245a88" stroke-width="0.8"/>
<circle cx="278.7" cy="70.4" r="2.05" fill="#2f8fd8" stroke="#245a88" stroke-width="0.8"/>
<circle cx="273.7" cy="72.3" r="2.05" fill="#2f8fd8" stroke="#245a88" stroke-width="0.8"/>
<circle cx="277.9" cy="75.8" r="2.05" fill="#2f8fd8" stroke="#245a88" stroke-width="0.8"/>
<circle cx="276.0" cy="80.2" r="2.05" fill="#6cc24a" stroke="#457f38" stroke-width="0.8"/>
<circle cx="272.5" cy="83.3" r="2.05" fill="#2f8fd8" stroke="#245a88" stroke-width="0.8"/>
<circle cx="276.8" cy="84.4" r="2.05" fill="#2f8fd8" stroke="#245a88" stroke-width="0.8"/>
<circle cx="273.3" cy="86.7" r="2.05" fill="#2f8fd8" stroke="#245a88" stroke-width="0.8"/>
<circle cx="276.0" cy="88.3" r="2.05" fill="#2f8fd8" stroke="#245a88" stroke-width="0.8"/>
<circle cx="274.3" cy="92.5" r="2.05" fill="#2f8fd8" stroke="#245a88" stroke-width="0.8"/>
<circle cx="276.0" cy="96.2" r="2.05" fill="#2f8fd8" stroke="#245a88" stroke-width="0.8"/>
<circle cx="277.3" cy="100.0" r="2.05" fill="#2f8fd8" stroke="#245a88" stroke-width="0.8"/>
<circle cx="275.4" cy="110.6" r="2.05" fill="#5bc8dc" stroke="#3a7f8a" stroke-width="0.8"/>
<circle cx="277.3" cy="115.4" r="2.05" fill="#6cc24a" stroke="#457f38" stroke-width="0.8"/>
<circle cx="273.3" cy="123.3" r="2.05" fill="#2f8fd8" stroke="#245a88" stroke-width="0.8"/>
<line x1="275.0" y1="157.3" x2="275.0" y2="159.5" stroke="#666" stroke-width="0.8"/>
<text class="ax" x="275.0" y="168.5" text-anchor="middle" textLength="24.2" lengthAdjust="spacingAndGlyphs">Rectum</text>
<line x1="314.5" y1="71.5" x2="314.5" y2="130.0" stroke="#6e6e6e" stroke-width="0.8"/>
<line x1="306.2" y1="71.5" x2="322.9" y2="71.5" stroke="#707070" stroke-width="0.85"/>
<line x1="306.2" y1="130.0" x2="322.9" y2="130.0" stroke="#707070" stroke-width="0.85"/>
<rect x="298.3" y="72.1" width="32.3" height="44.8" fill="#f7f7ef" stroke="#4d4d4d" stroke-width="1.1"/>
<line x1="298.3" y1="88.3" x2="330.6" y2="88.3" stroke="#888" stroke-width="0.9"/>
<circle cx="317.3" cy="34.4" r="2.05" fill="#2f8fd8" stroke="#245a88" stroke-width="0.8"/>
<circle cx="312.3" cy="49.2" r="2.05" fill="#2f8fd8" stroke="#245a88" stroke-width="0.8"/>
<circle cx="311.4" cy="71.3" r="2.05" fill="#2f8fd8" stroke="#245a88" stroke-width="0.8"/>
<circle cx="314.1" cy="76.3" r="2.05" fill="#2f8fd8" stroke="#245a88" stroke-width="0.8"/>
<circle cx="311.2" cy="85.2" r="2.05" fill="#2f8fd8" stroke="#245a88" stroke-width="0.8"/>
<circle cx="317.2" cy="92.5" r="2.05" fill="#2f8fd8" stroke="#245a88" stroke-width="0.8"/>
<circle cx="314.1" cy="109.6" r="2.05" fill="#2f8fd8" stroke="#245a88" stroke-width="0.8"/>
<circle cx="315.0" cy="120.2" r="2.05" fill="#2f8fd8" stroke="#245a88" stroke-width="0.8"/>
<circle cx="317.5" cy="121.5" r="2.05" fill="#2f8fd8" stroke="#245a88" stroke-width="0.8"/>
<circle cx="312.3" cy="130.0" r="2.05" fill="#2f8fd8" stroke="#245a88" stroke-width="0.8"/>
<line x1="314.5" y1="157.3" x2="314.5" y2="159.5" stroke="#666" stroke-width="0.8"/>
<text class="ax" x="314.5" y="168.5" text-anchor="middle" textLength="12.0" lengthAdjust="spacingAndGlyphs">Left</text>
<line x1="354.5" y1="112.7" x2="354.5" y2="134.8" stroke="#6e6e6e" stroke-width="0.8"/>
<line x1="346.2" y1="112.7" x2="362.7" y2="112.7" stroke="#707070" stroke-width="0.85"/>
<line x1="346.2" y1="134.8" x2="362.7" y2="134.8" stroke="#707070" stroke-width="0.85"/>
<rect x="338.3" y="116.0" width="32.3" height="17.5" fill="#f7f7ef" stroke="#4d4d4d" stroke-width="1.1"/>
<line x1="338.3" y1="122.9" x2="370.6" y2="122.9" stroke="#888" stroke-width="0.9"/>
<circle cx="358.1" cy="113.1" r="2.05" fill="#2f8fd8" stroke="#245a88" stroke-width="0.8"/>
<circle cx="353.5" cy="117.5" r="2.05" fill="#2f8fd8" stroke="#245a88" stroke-width="0.8"/>
<circle cx="352.5" cy="133.1" r="2.05" fill="#2f8fd8" stroke="#245a88" stroke-width="0.8"/>
<circle cx="354.1" cy="135.0" r="2.05" fill="#2f8fd8" stroke="#245a88" stroke-width="0.8"/>
<line x1="354.5" y1="157.3" x2="354.5" y2="159.5" stroke="#666" stroke-width="0.8"/>
<text class="ax" x="354.5" y="168.5" text-anchor="middle" textLength="10.7" lengthAdjust="spacingAndGlyphs">Mid</text>
<line x1="394.1" y1="90.4" x2="394.1" y2="151.5" stroke="#6e6e6e" stroke-width="0.8"/>
<line x1="386.0" y1="90.4" x2="402.2" y2="90.4" stroke="#707070" stroke-width="0.85"/>
<line x1="386.0" y1="151.5" x2="402.2" y2="151.5" stroke="#707070" stroke-width="0.85"/>
<rect x="378.1" y="90.4" width="32.1" height="45.0" fill="#f7f7ef" stroke="#4d4d4d" stroke-width="1.1"/>
<line x1="378.1" y1="119.8" x2="410.2" y2="119.8" stroke="#888" stroke-width="0.9"/>
<circle cx="392.0" cy="74.6" r="2.05" fill="#2f8fd8" stroke="#245a88" stroke-width="0.8"/>
<circle cx="390.4" cy="113.8" r="2.05" fill="#2f8fd8" stroke="#245a88" stroke-width="0.8"/>
<circle cx="397.7" cy="132.3" r="2.05" fill="#2f8fd8" stroke="#245a88" stroke-width="0.8"/>
<circle cx="393.5" cy="151.5" r="2.05" fill="#5bc8dc" stroke="#3a7f8a" stroke-width="0.8"/>
<line x1="394.1" y1="157.3" x2="394.1" y2="159.5" stroke="#666" stroke-width="0.8"/>
<text class="ax" x="394.1" y="168.5" text-anchor="middle" textLength="16.3" lengthAdjust="spacingAndGlyphs">Right</text>
<line x1="433.7" y1="129.2" x2="433.7" y2="146.2" stroke="#b4b4b4" stroke-width="1.3"/>
<line x1="425.6" y1="129.2" x2="441.8" y2="129.2" stroke="#8c8c8c" stroke-width="0.85"/>
<line x1="425.6" y1="146.2" x2="441.8" y2="146.2" stroke="#8c8c8c" stroke-width="0.85"/>
<rect x="417.5" y="130.6" width="32.3" height="6.0" fill="#f7f7ef" stroke="#4d4d4d" stroke-width="1.1"/>
<line x1="417.5" y1="133.8" x2="449.8" y2="133.8" stroke="#888" stroke-width="0.9"/>
<circle cx="437.3" cy="71.3" r="2.05" fill="#b5339c" stroke="#6c205c" stroke-width="0.8"/>
<circle cx="435.0" cy="111.9" r="2.05" fill="#b5339c" stroke="#6c205c" stroke-width="0.8"/>
<circle cx="435.2" cy="129.4" r="2.05" fill="#b5339c" stroke="#6c205c" stroke-width="0.8"/>
<circle cx="432.7" cy="131.3" r="2.05" fill="#b5339c" stroke="#6c205c" stroke-width="0.8"/>
<circle cx="437.7" cy="131.7" r="2.05" fill="#b5339c" stroke="#6c205c" stroke-width="0.8"/>
<circle cx="430.2" cy="134.6" r="2.05" fill="#b5339c" stroke="#6c205c" stroke-width="0.8"/>
<circle cx="434.8" cy="134.6" r="2.05" fill="#b5339c" stroke="#6c205c" stroke-width="0.8"/>
<circle cx="431.8" cy="136.7" r="2.05" fill="#b5339c" stroke="#6c205c" stroke-width="0.8"/>
<circle cx="436.4" cy="138.3" r="2.05" fill="#b5339c" stroke="#6c205c" stroke-width="0.8"/>
<circle cx="433.9" cy="139.0" r="2.05" fill="#b5339c" stroke="#6c205c" stroke-width="0.8"/>
<circle cx="434.7" cy="146.0" r="2.05" fill="#b5339c" stroke="#6c205c" stroke-width="0.8"/>
<line x1="433.7" y1="157.3" x2="433.7" y2="159.5" stroke="#666" stroke-width="0.8"/>
<text class="ax" x="433.7" y="168.5" text-anchor="middle" textLength="16.5" lengthAdjust="spacingAndGlyphs">None</text>
<line x1="255.3" y1="28.1" x2="255.3" y2="157.70000000000002" stroke="#707070" stroke-width="1.1"/>
<line x1="254.9" y1="157.3" x2="453.8" y2="157.3" stroke="#707070" stroke-width="1.1"/>
<rect x="517.6" y="8.0" width="121.6" height="8.9" rx="4.45" fill="#1b75bc"/>
<text class="pt" x="578.4" y="14.70" text-anchor="middle" textLength="91.7" lengthAdjust="spacingAndGlyphs">Variants of interest in TP53</text>
<text class="pl" x="478.0" y="16.2">c</text>
<text class="vaf" x="473.1" y="35.2" text-anchor="end" textLength="12.1" lengthAdjust="spacingAndGlyphs">VAF</text>
<line x1="479.0" y1="49.4" x2="677.7" y2="49.4" stroke="#cfd4d8" stroke-width="0.8"/>
<text class="ax" x="469.2" y="52.8" text-anchor="end" textLength="6.6" lengthAdjust="spacingAndGlyphs">10</text>
<text x="470.0" y="50.2" font-size="4.2px" fill="#9a9a9a" textLength="3.2" lengthAdjust="spacingAndGlyphs">-1</text>
<line x1="479.0" y1="83.5" x2="677.7" y2="83.5" stroke="#cfd4d8" stroke-width="0.8"/>
<text class="ax" x="469.2" y="86.9" text-anchor="end" textLength="6.6" lengthAdjust="spacingAndGlyphs">10</text>
<text x="470.0" y="84.3" font-size="4.2px" fill="#9a9a9a" textLength="3.2" lengthAdjust="spacingAndGlyphs">-2</text>
<line x1="479.0" y1="117.5" x2="677.7" y2="117.5" stroke="#cfd4d8" stroke-width="0.8"/>
<text class="ax" x="469.2" y="120.9" text-anchor="end" textLength="6.6" lengthAdjust="spacingAndGlyphs">10</text>
<text x="470.0" y="118.3" font-size="4.2px" fill="#9a9a9a" textLength="3.2" lengthAdjust="spacingAndGlyphs">-3</text>
<line x1="479.0" y1="151.5" x2="677.7" y2="151.5" stroke="#cfd4d8" stroke-width="0.8"/>
<text class="ax" x="469.2" y="154.9" text-anchor="end" textLength="6.6" lengthAdjust="spacingAndGlyphs">10</text>
<text x="470.0" y="152.3" font-size="4.2px" fill="#9a9a9a" textLength="3.2" lengthAdjust="spacingAndGlyphs">-4</text>
<line x1="495.6" y1="46.3" x2="495.6" y2="139.4" stroke="#6e6e6e" stroke-width="0.8"/>
<line x1="488.8" y1="46.3" x2="502.7" y2="46.3" stroke="#707070" stroke-width="0.85"/>
<line x1="488.8" y1="139.4" x2="502.7" y2="139.4" stroke="#707070" stroke-width="0.85"/>
<rect x="482.5" y="56.3" width="26.5" height="61.3" fill="#f7f7ef" stroke="#4d4d4d" stroke-width="1.1"/>
<line x1="482.5" y1="74.2" x2="509.0" y2="74.2" stroke="#888" stroke-width="0.9"/>
<circle cx="494.8" cy="34.4" r="2.05" fill="#2f8fd8" stroke="#245a88" stroke-width="0.8"/>
<circle cx="498.8" cy="34.4" r="2.05" fill="#2f8fd8" stroke="#245a88" stroke-width="0.8"/>
<circle cx="498.3" cy="46.3" r="2.05" fill="#2f8fd8" stroke="#245a88" stroke-width="0.8"/>
<circle cx="493.7" cy="48.8" r="2.05" fill="#6cc24a" stroke="#457f38" stroke-width="0.8"/>
<circle cx="492.7" cy="56.9" r="2.05" fill="#2f8fd8" stroke="#245a88" stroke-width="0.8"/>
<circle cx="495.8" cy="56.5" r="2.05" fill="#2f8fd8" stroke="#245a88" stroke-width="0.8"/>
<circle cx="498.5" cy="61.0" r="2.05" fill="#2f8fd8" stroke="#245a88" stroke-width="0.8"/>
<circle cx="495.0" cy="62.7" r="2.05" fill="#2f8fd8" stroke="#245a88" stroke-width="0.8"/>
<circle cx="497.3" cy="63.7" r="2.05" fill="#2f8fd8" stroke="#245a88" stroke-width="0.8"/>
<circle cx="495.6" cy="66.5" r="2.05" fill="#2f8fd8" stroke="#245a88" stroke-width="0.8"/>
<circle cx="493.1" cy="73.3" r="2.05" fill="#2f8fd8" stroke="#245a88" stroke-width="0.8"/>
<circle cx="494.8" cy="74.8" r="2.05" fill="#2f8fd8" stroke="#245a88" stroke-width="0.8"/>
<circle cx="492.5" cy="81.0" r="2.05" fill="#2f8fd8" stroke="#245a88" stroke-width="0.8"/>
<circle cx="496.7" cy="90.8" r="2.05" fill="#2f8fd8" stroke="#245a88" stroke-width="0.8"/>
<circle cx="492.7" cy="99.4" r="2.05" fill="#2f8fd8" stroke="#245a88" stroke-width="0.8"/>
<circle cx="493.5" cy="107.1" r="2.05" fill="#2f8fd8" stroke="#245a88" stroke-width="0.8"/>
<circle cx="493.8" cy="117.7" r="2.05" fill="#2f8fd8" stroke="#245a88" stroke-width="0.8"/>
<circle cx="498.3" cy="123.3" r="2.05" fill="#2f8fd8" stroke="#245a88" stroke-width="0.8"/>
<circle cx="496.3" cy="130.2" r="2.05" fill="#2f8fd8" stroke="#245a88" stroke-width="0.8"/>
<circle cx="498.5" cy="130.8" r="2.05" fill="#2f8fd8" stroke="#245a88" stroke-width="0.8"/>
<circle cx="494.8" cy="132.7" r="2.05" fill="#2f8fd8" stroke="#245a88" stroke-width="0.8"/>
<circle cx="496.2" cy="136.7" r="2.05" fill="#2f8fd8" stroke="#245a88" stroke-width="0.8"/>
<circle cx="494.0" cy="139.4" r="2.05" fill="#2f8fd8" stroke="#245a88" stroke-width="0.8"/>
<line x1="495.6" y1="157.3" x2="495.6" y2="159.5" stroke="#666" stroke-width="0.8"/>
<text class="ax" x="495.6" y="168.5" text-anchor="middle" textLength="24.2" lengthAdjust="spacingAndGlyphs">Rectum</text>
<line x1="528.7" y1="102.7" x2="528.7" y2="128.5" stroke="#6e6e6e" stroke-width="0.8"/>
<line x1="521.7" y1="102.7" x2="535.6" y2="102.7" stroke="#707070" stroke-width="0.85"/>
<line x1="521.7" y1="128.5" x2="535.6" y2="128.5" stroke="#707070" stroke-width="0.85"/>
<rect x="515.4" y="103.1" width="26.9" height="14.4" fill="#f7f7ef" stroke="#4d4d4d" stroke-width="1.1"/>
<line x1="515.4" y1="110.2" x2="542.3" y2="110.2" stroke="#888" stroke-width="0.9"/>
<circle cx="529.4" cy="63.8" r="2.05" fill="#2f8fd8" stroke="#245a88" stroke-width="0.8"/>
<circle cx="531.2" cy="72.5" r="2.05" fill="#2f8fd8" stroke="#245a88" stroke-width="0.8"/>
<circle cx="527.7" cy="75.8" r="2.05" fill="#2f8fd8" stroke="#245a88" stroke-width="0.8"/>
<circle cx="530.2" cy="102.5" r="2.05" fill="#2f8fd8" stroke="#245a88" stroke-width="0.8"/>
<circle cx="527.1" cy="106.5" r="2.05" fill="#5bc8dc" stroke="#3a7f8a" stroke-width="0.8"/>
<circle cx="528.1" cy="109.6" r="2.05" fill="#2f8fd8" stroke="#245a88" stroke-width="0.8"/>
<circle cx="531.5" cy="111.5" r="2.05" fill="#2f8fd8" stroke="#245a88" stroke-width="0.8"/>
<circle cx="528.5" cy="113.7" r="2.05" fill="#2f8fd8" stroke="#245a88" stroke-width="0.8"/>
<circle cx="526.3" cy="117.9" r="2.05" fill="#2f8fd8" stroke="#245a88" stroke-width="0.8"/>
<circle cx="529.2" cy="117.5" r="2.05" fill="#2f8fd8" stroke="#245a88" stroke-width="0.8"/>
<circle cx="530.8" cy="123.8" r="2.05" fill="#2f8fd8" stroke="#245a88" stroke-width="0.8"/>
<circle cx="528.1" cy="128.5" r="2.05" fill="#2f8fd8" stroke="#245a88" stroke-width="0.8"/>
<line x1="528.7" y1="157.3" x2="528.7" y2="159.5" stroke="#666" stroke-width="0.8"/>
<text class="ax" x="528.7" y="168.5" text-anchor="middle" textLength="12.0" lengthAdjust="spacingAndGlyphs">Left</text>
<line x1="561.7" y1="114.4" x2="561.7" y2="137.9" stroke="#b4b4b4" stroke-width="1.3"/>
<line x1="555.0" y1="114.4" x2="568.7" y2="114.4" stroke="#8c8c8c" stroke-width="0.85"/>
<line x1="555.0" y1="137.9" x2="568.7" y2="137.9" stroke="#8c8c8c" stroke-width="0.85"/>
<rect x="548.5" y="114.4" width="26.7" height="14.2" fill="#f7f7ef" stroke="#4d4d4d" stroke-width="1.1"/>
<line x1="548.5" y1="120.4" x2="575.2" y2="120.4" stroke="#888" stroke-width="0.9"/>
<circle cx="559.2" cy="98.3" r="2.05" fill="#2f8fd8" stroke="#245a88" stroke-width="0.8"/>
<circle cx="559.6" cy="104.4" r="2.05" fill="#2f8fd8" stroke="#245a88" stroke-width="0.8"/>
<circle cx="560.0" cy="114.6" r="2.05" fill="#2f8fd8" stroke="#245a88" stroke-width="0.8"/>
<circle cx="564.6" cy="117.5" r="2.05" fill="#2f8fd8" stroke="#245a88" stroke-width="0.8"/>
<circle cx="561.3" cy="120.8" r="2.05" fill="#2f8fd8" stroke="#245a88" stroke-width="0.8"/>
<circle cx="563.8" cy="121.5" r="2.05" fill="#2f8fd8" stroke="#245a88" stroke-width="0.8"/>
<circle cx="564.2" cy="124.6" r="2.05" fill="#2f8fd8" stroke="#245a88" stroke-width="0.8"/>
<circle cx="562.9" cy="129.0" r="2.05" fill="#2f8fd8" stroke="#245a88" stroke-width="0.8"/>
<circle cx="562.5" cy="133.3" r="2.05" fill="#2f8fd8" stroke="#245a88" stroke-width="0.8"/>
<circle cx="564.8" cy="133.5" r="2.05" fill="#2f8fd8" stroke="#245a88" stroke-width="0.8"/>
<circle cx="561.7" cy="137.9" r="2.05" fill="#2f8fd8" stroke="#245a88" stroke-width="0.8"/>
<line x1="561.7" y1="157.3" x2="561.7" y2="159.5" stroke="#666" stroke-width="0.8"/>
<text class="ax" x="561.7" y="168.5" text-anchor="middle" textLength="10.7" lengthAdjust="spacingAndGlyphs">Mid</text>
<line x1="594.6" y1="107.5" x2="594.6" y2="148.5" stroke="#b4b4b4" stroke-width="1.3"/>
<line x1="587.9" y1="107.5" x2="601.7" y2="107.5" stroke="#8c8c8c" stroke-width="0.85"/>
<line x1="587.9" y1="148.5" x2="601.7" y2="148.5" stroke="#8c8c8c" stroke-width="0.85"/>
<rect x="581.3" y="111.5" width="26.9" height="19.4" fill="#f7f7ef" stroke="#4d4d4d" stroke-width="1.1"/>
<line x1="581.3" y1="125.0" x2="608.3" y2="125.0" stroke="#888" stroke-width="0.9"/>
<circle cx="594.8" cy="89.6" r="2.05" fill="#2f8fd8" stroke="#245a88" stroke-width="0.8"/>
<circle cx="597.5" cy="98.8" r="2.05" fill="#2f8fd8" stroke="#245a88" stroke-width="0.8"/>
<circle cx="592.1" cy="107.9" r="2.05" fill="#2f8fd8" stroke="#245a88" stroke-width="0.8"/>
<circle cx="598.3" cy="113.7" r="2.05" fill="#2f8fd8" stroke="#245a88" stroke-width="0.8"/>
<circle cx="596.0" cy="120.2" r="2.05" fill="#2f8fd8" stroke="#245a88" stroke-width="0.8"/>
<circle cx="595.4" cy="124.0" r="2.05" fill="#2f8fd8" stroke="#245a88" stroke-width="0.8"/>
<circle cx="593.5" cy="125.8" r="2.05" fill="#2f8fd8" stroke="#245a88" stroke-width="0.8"/>
<circle cx="595.4" cy="128.8" r="2.05" fill="#2f8fd8" stroke="#245a88" stroke-width="0.8"/>
<circle cx="597.1" cy="131.0" r="2.05" fill="#2f8fd8" stroke="#245a88" stroke-width="0.8"/>
<circle cx="596.2" cy="135.6" r="2.05" fill="#2f8fd8" stroke="#245a88" stroke-width="0.8"/>
<circle cx="594.4" cy="148.5" r="2.05" fill="#5bc8dc" stroke="#3a7f8a" stroke-width="0.8"/>
<line x1="594.6" y1="157.3" x2="594.6" y2="159.5" stroke="#666" stroke-width="0.8"/>
<text class="ax" x="594.6" y="168.5" text-anchor="middle" textLength="16.3" lengthAdjust="spacingAndGlyphs">Right</text>
<line x1="627.9" y1="108.8" x2="627.9" y2="151.5" stroke="#b4b4b4" stroke-width="1.3"/>
<line x1="621.0" y1="108.8" x2="634.8" y2="108.8" stroke="#8c8c8c" stroke-width="0.85"/>
<line x1="621.0" y1="151.5" x2="634.8" y2="151.5" stroke="#8c8c8c" stroke-width="0.85"/>
<rect x="614.4" y="115.8" width="27.1" height="13.3" fill="#f7f7ef" stroke="#4d4d4d" stroke-width="1.1"/>
<line x1="614.4" y1="122.1" x2="641.5" y2="122.1" stroke="#888" stroke-width="0.9"/>
<circle cx="631.0" cy="69.8" r="2.05" fill="#b5339c" stroke="#6c205c" stroke-width="0.8"/>
<circle cx="624.8" cy="90.0" r="2.05" fill="#b5339c" stroke="#6c205c" stroke-width="0.8"/>
<circle cx="626.3" cy="92.7" r="2.05" fill="#ffffff" stroke="#4a4a4a" stroke-width="0.8"/>
<circle cx="627.1" cy="106.5" r="2.05" fill="#b5339c" stroke="#6c205c" stroke-width="0.8"/>
<circle cx="628.7" cy="106.5" r="2.05" fill="#b5339c" stroke="#6c205c" stroke-width="0.8"/>
<circle cx="628.1" cy="109.0" r="2.05" fill="#ffffff" stroke="#4a4a4a" stroke-width="0.8"/>
<circle cx="625.6" cy="113.7" r="2.05" fill="#b5339c" stroke="#6c205c" stroke-width="0.8"/>
<circle cx="631.2" cy="115.6" r="2.05" fill="#ffffff" stroke="#4a4a4a" stroke-width="0.8"/>
<circle cx="625.0" cy="117.9" r="2.05" fill="#b5339c" stroke="#6c205c" stroke-width="0.8"/>
<circle cx="630.2" cy="120.2" r="2.05" fill="#ffffff" stroke="#4a4a4a" stroke-width="0.8"/>
<circle cx="626.2" cy="121.9" r="2.05" fill="#b5339c" stroke="#6c205c" stroke-width="0.8"/>
<circle cx="630.8" cy="124.0" r="2.05" fill="#b5339c" stroke="#6c205c" stroke-width="0.8"/>
<circle cx="624.8" cy="125.8" r="2.05" fill="#b5339c" stroke="#6c205c" stroke-width="0.8"/>
<circle cx="628.7" cy="126.2" r="2.05" fill="#b5339c" stroke="#6c205c" stroke-width="0.8"/>
<circle cx="626.7" cy="128.7" r="2.05" fill="#b5339c" stroke="#6c205c" stroke-width="0.8"/>
<circle cx="628.7" cy="130.0" r="2.05" fill="#b5339c" stroke="#6c205c" stroke-width="0.8"/>
<circle cx="625.2" cy="132.1" r="2.05" fill="#b5339c" stroke="#6c205c" stroke-width="0.8"/>
<circle cx="624.6" cy="136.7" r="2.05" fill="#b5339c" stroke="#6c205c" stroke-width="0.8"/>
<circle cx="631.0" cy="138.3" r="2.05" fill="#b5339c" stroke="#6c205c" stroke-width="0.8"/>
<circle cx="626.7" cy="146.5" r="2.05" fill="#b5339c" stroke="#6c205c" stroke-width="0.8"/>
<circle cx="628.5" cy="146.0" r="2.05" fill="#b5339c" stroke="#6c205c" stroke-width="0.8"/>
<circle cx="624.8" cy="151.3" r="2.05" fill="#b5339c" stroke="#6c205c" stroke-width="0.8"/>
<line x1="627.9" y1="157.3" x2="627.9" y2="159.5" stroke="#666" stroke-width="0.8"/>
<text class="ax" x="627.9" y="168.5" text-anchor="middle" textLength="16.5" lengthAdjust="spacingAndGlyphs">None</text>
<line x1="647.5" y1="110.4" x2="674.6" y2="110.4" stroke="#8a8a8a" stroke-width="0.9"/>
<circle cx="662.5" cy="110.4" r="2.05" fill="#5bc8dc" stroke="#3a7f8a" stroke-width="0.8"/>
<line x1="661.2" y1="157.3" x2="661.2" y2="159.5" stroke="#666" stroke-width="0.8"/>
<text class="ax" x="661.2" y="168.5" text-anchor="middle" textLength="30.1" lengthAdjust="spacingAndGlyphs">Unknown</text>
<line x1="479.0" y1="28.1" x2="479.0" y2="157.70000000000002" stroke="#707070" stroke-width="1.1"/>
<line x1="478.6" y1="157.3" x2="677.7" y2="157.3" stroke="#707070" stroke-width="1.1"/>
<rect x="293.8" y="192.2" width="121.6" height="8.9" rx="4.45" fill="#1b75bc"/>
<text class="pt" x="354.6" y="198.90" text-anchor="middle" textLength="93.2" lengthAdjust="spacingAndGlyphs">Variants of interest in KRAS</text>
<text class="pl" x="254.3" y="200.4">d</text>
<text class="vaf" x="248.2" y="215.5" text-anchor="end" textLength="12.1" lengthAdjust="spacingAndGlyphs">VAF</text>
<line x1="255.3" y1="235.4" x2="453.8" y2="235.4" stroke="#cfd4d8" stroke-width="0.8"/>
<text class="ax" x="244.3" y="238.8" text-anchor="end" textLength="6.6" lengthAdjust="spacingAndGlyphs">10</text>
<text x="245.1" y="236.2" font-size="4.2px" fill="#9a9a9a" textLength="3.2" lengthAdjust="spacingAndGlyphs">-1</text>
<line x1="255.3" y1="274.6" x2="453.8" y2="274.6" stroke="#cfd4d8" stroke-width="0.8"/>
<text class="ax" x="244.3" y="278.0" text-anchor="end" textLength="6.6" lengthAdjust="spacingAndGlyphs">10</text>
<text x="245.1" y="275.4" font-size="4.2px" fill="#9a9a9a" textLength="3.2" lengthAdjust="spacingAndGlyphs">-2</text>
<line x1="255.3" y1="314.2" x2="453.8" y2="314.2" stroke="#cfd4d8" stroke-width="0.8"/>
<text class="ax" x="244.3" y="317.6" text-anchor="end" textLength="6.6" lengthAdjust="spacingAndGlyphs">10</text>
<text x="245.1" y="315.0" font-size="4.2px" fill="#9a9a9a" textLength="3.2" lengthAdjust="spacingAndGlyphs">-3</text>
<line x1="275.0" y1="250.6" x2="275.0" y2="338.3" stroke="#b4b4b4" stroke-width="1.3"/>
<line x1="267.2" y1="250.6" x2="282.9" y2="250.6" stroke="#8c8c8c" stroke-width="0.85"/>
<line x1="267.2" y1="338.3" x2="282.9" y2="338.3" stroke="#8c8c8c" stroke-width="0.85"/>
<rect x="259.3" y="253.5" width="31.9" height="57.1" fill="#f7f7ef" stroke="#4d4d4d" stroke-width="1.1"/>
<line x1="259.3" y1="304.4" x2="291.2" y2="304.4" stroke="#888" stroke-width="0.9"/>
<circle cx="275.0" cy="221.5" r="2.05" fill="#2f8fd8" stroke="#245a88" stroke-width="0.8"/>
<circle cx="276.4" cy="225.6" r="2.05" fill="#2f8fd8" stroke="#245a88" stroke-width="0.8"/>
<circle cx="271.4" cy="235.6" r="2.05" fill="#2f8fd8" stroke="#245a88" stroke-width="0.8"/>
<circle cx="271.4" cy="236.2" r="2.05" fill="#2f8fd8" stroke="#245a88" stroke-width="0.8"/>
<circle cx="278.7" cy="236.5" r="2.05" fill="#2f8fd8" stroke="#245a88" stroke-width="0.8"/>
<circle cx="277.2" cy="250.6" r="2.05" fill="#2f8fd8" stroke="#245a88" stroke-width="0.8"/>
<circle cx="274.7" cy="270.8" r="2.05" fill="#2f8fd8" stroke="#245a88" stroke-width="0.8"/>
<circle cx="278.1" cy="285.2" r="2.05" fill="#5bc8dc" stroke="#3a7f8a" stroke-width="0.8"/>
<circle cx="272.5" cy="294.2" r="2.05" fill="#6cc24a" stroke="#457f38" stroke-width="0.8"/>
<circle cx="272.9" cy="297.5" r="2.05" fill="#2f8fd8" stroke="#245a88" stroke-width="0.8"/>
<circle cx="277.2" cy="302.9" r="2.05" fill="#6cc24a" stroke="#457f38" stroke-width="0.8"/>
<circle cx="276.0" cy="306.9" r="2.05" fill="#5bc8dc" stroke="#3a7f8a" stroke-width="0.8"/>
<circle cx="277.7" cy="309.6" r="2.05" fill="#6cc24a" stroke="#457f38" stroke-width="0.8"/>
<circle cx="273.1" cy="310.4" r="2.05" fill="#5bc8dc" stroke="#3a7f8a" stroke-width="0.8"/>
<circle cx="276.4" cy="312.7" r="2.05" fill="#2f8fd8" stroke="#245a88" stroke-width="0.8"/>
<circle cx="278.9" cy="314.4" r="2.05" fill="#2f8fd8" stroke="#245a88" stroke-width="0.8"/>
<circle cx="274.8" cy="316.0" r="2.05" fill="#2f8fd8" stroke="#245a88" stroke-width="0.8"/>
<circle cx="271.4" cy="331.0" r="2.05" fill="#2f8fd8" stroke="#245a88" stroke-width="0.8"/>
<circle cx="273.9" cy="338.3" r="2.05" fill="#2f8fd8" stroke="#245a88" stroke-width="0.8"/>
<line x1="275.0" y1="344.2" x2="275.0" y2="346.4" stroke="#666" stroke-width="0.8"/>
<text class="ax" x="275.0" y="355.4" text-anchor="middle" textLength="24.2" lengthAdjust="spacingAndGlyphs">Rectum</text>
<line x1="314.5" y1="291.0" x2="314.5" y2="337.5" stroke="#6e6e6e" stroke-width="0.8"/>
<line x1="306.2" y1="291.0" x2="322.9" y2="291.0" stroke="#707070" stroke-width="0.85"/>
<line x1="306.2" y1="337.5" x2="322.9" y2="337.5" stroke="#707070" stroke-width="0.85"/>
<rect x="298.3" y="294.0" width="32.3" height="13.3" fill="#f7f7ef" stroke="#4d4d4d" stroke-width="1.1"/>
<line x1="298.3" y1="303.5" x2="330.6" y2="303.5" stroke="#888" stroke-width="0.9"/>
<circle cx="313.1" cy="261.7" r="2.05" fill="#2f8fd8" stroke="#245a88" stroke-width="0.8"/>
<circle cx="316.6" cy="272.1" r="2.05" fill="#2f8fd8" stroke="#245a88" stroke-width="0.8"/>
<circle cx="318.1" cy="291.0" r="2.05" fill="#2f8fd8" stroke="#245a88" stroke-width="0.8"/>
<circle cx="316.2" cy="293.3" r="2.05" fill="#2f8fd8" stroke="#245a88" stroke-width="0.8"/>
<circle cx="312.5" cy="294.0" r="2.05" fill="#2f8fd8" stroke="#245a88" stroke-width="0.8"/>
<circle cx="314.3" cy="296.0" r="2.05" fill="#2f8fd8" stroke="#245a88" stroke-width="0.8"/>
<circle cx="314.8" cy="303.5" r="2.05" fill="#5bc8dc" stroke="#3a7f8a" stroke-width="0.8"/>
<circle cx="311.8" cy="306.2" r="2.05" fill="#2f8fd8" stroke="#245a88" stroke-width="0.8"/>
<circle cx="316.8" cy="306.2" r="2.05" fill="#2f8fd8" stroke="#245a88" stroke-width="0.8"/>
<circle cx="313.9" cy="309.0" r="2.05" fill="#6cc24a" stroke="#457f38" stroke-width="0.8"/>
<circle cx="311.0" cy="310.6" r="2.05" fill="#2f8fd8" stroke="#245a88" stroke-width="0.8"/>
<circle cx="312.7" cy="311.9" r="2.05" fill="#2f8fd8" stroke="#245a88" stroke-width="0.8"/>
<circle cx="313.9" cy="337.5" r="2.05" fill="#2f8fd8" stroke="#245a88" stroke-width="0.8"/>
<line x1="314.5" y1="344.2" x2="314.5" y2="346.4" stroke="#666" stroke-width="0.8"/>
<text class="ax" x="314.5" y="355.4" text-anchor="middle" textLength="12.0" lengthAdjust="spacingAndGlyphs">Left</text>
<line x1="354.5" y1="282.3" x2="354.5" y2="329.2" stroke="#6e6e6e" stroke-width="0.8"/>
<line x1="346.2" y1="282.3" x2="362.7" y2="282.3" stroke="#707070" stroke-width="0.85"/>
<line x1="346.2" y1="329.2" x2="362.7" y2="329.2" stroke="#707070" stroke-width="0.85"/>
<rect x="338.3" y="293.5" width="32.3" height="24.2" fill="#f7f7ef" stroke="#4d4d4d" stroke-width="1.1"/>
<line x1="338.3" y1="305.8" x2="370.6" y2="305.8" stroke="#888" stroke-width="0.9"/>
<circle cx="352.2" cy="269.6" r="2.05" fill="#2f8fd8" stroke="#245a88" stroke-width="0.8"/>
<circle cx="353.9" cy="269.2" r="2.05" fill="#2f8fd8" stroke="#245a88" stroke-width="0.8"/>
<circle cx="350.6" cy="282.3" r="2.05" fill="#2f8fd8" stroke="#245a88" stroke-width="0.8"/>
<circle cx="353.9" cy="293.7" r="2.05" fill="#2f8fd8" stroke="#245a88" stroke-width="0.8"/>
<circle cx="357.5" cy="293.7" r="2.05" fill="#2f8fd8" stroke="#245a88" stroke-width="0.8"/>
<circle cx="351.4" cy="301.7" r="2.05" fill="#5bc8dc" stroke="#3a7f8a" stroke-width="0.8"/>
<circle cx="351.4" cy="305.2" r="2.05" fill="#5bc8dc" stroke="#3a7f8a" stroke-width="0.8"/>
<circle cx="354.5" cy="305.8" r="2.05" fill="#2f8fd8" stroke="#245a88" stroke-width="0.8"/>
<circle cx="355.4" cy="316.2" r="2.05" fill="#2f8fd8" stroke="#245a88" stroke-width="0.8"/>
<circle cx="352.7" cy="317.7" r="2.05" fill="#2f8fd8" stroke="#245a88" stroke-width="0.8"/>
<circle cx="355.2" cy="327.7" r="2.05" fill="#2f8fd8" stroke="#245a88" stroke-width="0.8"/>
<circle cx="355.0" cy="329.2" r="2.05" fill="#2f8fd8" stroke="#245a88" stroke-width="0.8"/>
<line x1="354.5" y1="344.2" x2="354.5" y2="346.4" stroke="#666" stroke-width="0.8"/>
<text class="ax" x="354.5" y="355.4" text-anchor="middle" textLength="10.7" lengthAdjust="spacingAndGlyphs">Mid</text>
<line x1="394.1" y1="278.7" x2="394.1" y2="332.9" stroke="#b4b4b4" stroke-width="1.3"/>
<line x1="386.0" y1="278.7" x2="402.2" y2="278.7" stroke="#8c8c8c" stroke-width="0.85"/>
<line x1="386.0" y1="332.9" x2="402.2" y2="332.9" stroke="#8c8c8c" stroke-width="0.85"/>
<rect x="378.1" y="281.3" width="32.1" height="40.4" fill="#f7f7ef" stroke="#4d4d4d" stroke-width="1.1"/>
<line x1="378.1" y1="307.3" x2="410.2" y2="307.3" stroke="#888" stroke-width="0.9"/>
<circle cx="394.5" cy="254.2" r="2.05" fill="#2f8fd8" stroke="#245a88" stroke-width="0.8"/>
<circle cx="391.0" cy="278.8" r="2.05" fill="#2f8fd8" stroke="#245a88" stroke-width="0.8"/>
<circle cx="394.5" cy="281.2" r="2.05" fill="#2f8fd8" stroke="#245a88" stroke-width="0.8"/>
<circle cx="395.0" cy="284.4" r="2.05" fill="#2f8fd8" stroke="#245a88" stroke-width="0.8"/>
<circle cx="390.2" cy="303.7" r="2.05" fill="#2f8fd8" stroke="#245a88" stroke-width="0.8"/>
<circle cx="392.9" cy="311.3" r="2.05" fill="#2f8fd8" stroke="#245a88" stroke-width="0.8"/>
<circle cx="391.8" cy="312.3" r="2.05" fill="#2f8fd8" stroke="#245a88" stroke-width="0.8"/>
<circle cx="397.2" cy="326.7" r="2.05" fill="#2f8fd8" stroke="#245a88" stroke-width="0.8"/>
<circle cx="397.9" cy="329.4" r="2.05" fill="#2f8fd8" stroke="#245a88" stroke-width="0.8"/>
<circle cx="393.9" cy="332.9" r="2.05" fill="#2f8fd8" stroke="#245a88" stroke-width="0.8"/>
<line x1="394.1" y1="344.2" x2="394.1" y2="346.4" stroke="#666" stroke-width="0.8"/>
<text class="ax" x="394.1" y="355.4" text-anchor="middle" textLength="16.3" lengthAdjust="spacingAndGlyphs">Right</text>
<line x1="433.7" y1="293.5" x2="433.7" y2="338.1" stroke="#b4b4b4" stroke-width="1.3"/>
<line x1="425.6" y1="293.5" x2="441.8" y2="293.5" stroke="#8c8c8c" stroke-width="0.85"/>
<line x1="425.6" y1="338.1" x2="441.8" y2="338.1" stroke="#8c8c8c" stroke-width="0.85"/>
<rect x="417.5" y="302.5" width="32.3" height="17.1" fill="#f7f7ef" stroke="#4d4d4d" stroke-width="1.1"/>
<line x1="417.5" y1="310.2" x2="449.8" y2="310.2" stroke="#888" stroke-width="0.9"/>
<circle cx="431.4" cy="241.7" r="2.05" fill="#ffffff" stroke="#4a4a4a" stroke-width="0.8"/>
<circle cx="432.5" cy="278.5" r="2.05" fill="#b5339c" stroke="#6c205c" stroke-width="0.8"/>
<circle cx="432.5" cy="280.8" r="2.05" fill="#b5339c" stroke="#6c205c" stroke-width="0.8"/>
<circle cx="432.3" cy="293.5" r="2.05" fill="#ffffff" stroke="#4a4a4a" stroke-width="0.8"/>
<circle cx="430.6" cy="298.1" r="2.05" fill="#b5339c" stroke="#6c205c" stroke-width="0.8"/>
<circle cx="434.3" cy="298.1" r="2.05" fill="#b5339c" stroke="#6c205c" stroke-width="0.8"/>
<circle cx="437.5" cy="304.2" r="2.05" fill="#b5339c" stroke="#6c205c" stroke-width="0.8"/>
<circle cx="434.1" cy="304.4" r="2.05" fill="#ffffff" stroke="#4a4a4a" stroke-width="0.8"/>
<circle cx="430.2" cy="304.8" r="2.05" fill="#b5339c" stroke="#6c205c" stroke-width="0.8"/>
<circle cx="430.6" cy="308.8" r="2.05" fill="#b5339c" stroke="#6c205c" stroke-width="0.8"/>
<circle cx="435.6" cy="311.3" r="2.05" fill="#b5339c" stroke="#6c205c" stroke-width="0.8"/>
<circle cx="433.1" cy="312.7" r="2.05" fill="#b5339c" stroke="#6c205c" stroke-width="0.8"/>
<circle cx="431.2" cy="316.0" r="2.05" fill="#b5339c" stroke="#6c205c" stroke-width="0.8"/>
<circle cx="433.1" cy="320.0" r="2.05" fill="#b5339c" stroke="#6c205c" stroke-width="0.8"/>
<circle cx="431.6" cy="321.7" r="2.05" fill="#b5339c" stroke="#6c205c" stroke-width="0.8"/>
<circle cx="433.1" cy="324.6" r="2.05" fill="#b5339c" stroke="#6c205c" stroke-width="0.8"/>
<circle cx="433.5" cy="328.7" r="2.05" fill="#b5339c" stroke="#6c205c" stroke-width="0.8"/>
<circle cx="431.6" cy="331.2" r="2.05" fill="#b5339c" stroke="#6c205c" stroke-width="0.8"/>
<circle cx="430.2" cy="338.3" r="2.05" fill="#b5339c" stroke="#6c205c" stroke-width="0.8"/>
<line x1="433.7" y1="344.2" x2="433.7" y2="346.4" stroke="#666" stroke-width="0.8"/>
<text class="ax" x="433.7" y="355.4" text-anchor="middle" textLength="16.5" lengthAdjust="spacingAndGlyphs">None</text>
<line x1="255.3" y1="215.6" x2="255.3" y2="344.59999999999997" stroke="#707070" stroke-width="1.1"/>
<line x1="254.9" y1="344.2" x2="453.8" y2="344.2" stroke="#707070" stroke-width="1.1"/>
<rect x="517.7" y="192.2" width="121.6" height="8.9" rx="4.45" fill="#1b75bc"/>
<text class="pt" x="578.5" y="198.90" text-anchor="middle" textLength="93.0" lengthAdjust="spacingAndGlyphs">Variants of interest in BRAF</text>
<text class="pl" x="478.2" y="200.4">e</text>
<text class="vaf" x="473.3" y="215.5" text-anchor="end" textLength="12.1" lengthAdjust="spacingAndGlyphs">VAF</text>
<line x1="479.2" y1="224.4" x2="677.7" y2="224.4" stroke="#cfd4d8" stroke-width="0.8"/>
<text class="ax" x="469.4" y="227.8" text-anchor="end" textLength="6.6" lengthAdjust="spacingAndGlyphs">10</text>
<text x="470.2" y="225.2" font-size="4.2px" fill="#9a9a9a" textLength="3.2" lengthAdjust="spacingAndGlyphs">-1</text>
<line x1="479.2" y1="266.5" x2="677.7" y2="266.5" stroke="#cfd4d8" stroke-width="0.8"/>
<text class="ax" x="469.4" y="269.9" text-anchor="end" textLength="6.6" lengthAdjust="spacingAndGlyphs">10</text>
<text x="470.2" y="267.3" font-size="4.2px" fill="#9a9a9a" textLength="3.2" lengthAdjust="spacingAndGlyphs">-2</text>
<line x1="479.2" y1="309.0" x2="677.7" y2="309.0" stroke="#cfd4d8" stroke-width="0.8"/>
<text class="ax" x="469.4" y="312.4" text-anchor="end" textLength="6.6" lengthAdjust="spacingAndGlyphs">10</text>
<text x="470.2" y="309.8" font-size="4.2px" fill="#9a9a9a" textLength="3.2" lengthAdjust="spacingAndGlyphs">-3</text>
<line x1="499.0" y1="268.1" x2="499.0" y2="331.9" stroke="#b4b4b4" stroke-width="1.3"/>
<line x1="491.2" y1="268.1" x2="506.9" y2="268.1" stroke="#8c8c8c" stroke-width="0.85"/>
<line x1="491.2" y1="331.9" x2="506.9" y2="331.9" stroke="#8c8c8c" stroke-width="0.85"/>
<rect x="483.3" y="271.3" width="31.9" height="51.3" fill="#f7f7ef" stroke="#4d4d4d" stroke-width="1.1"/>
<line x1="483.3" y1="289.2" x2="515.2" y2="289.2" stroke="#888" stroke-width="0.9"/>
<circle cx="499.6" cy="251.3" r="2.05" fill="#2f8fd8" stroke="#245a88" stroke-width="0.8"/>
<circle cx="502.7" cy="268.1" r="2.05" fill="#6cc24a" stroke="#457f38" stroke-width="0.8"/>
<circle cx="497.9" cy="272.7" r="2.05" fill="#2f8fd8" stroke="#245a88" stroke-width="0.8"/>
<circle cx="501.9" cy="287.3" r="2.05" fill="#5bc8dc" stroke="#3a7f8a" stroke-width="0.8"/>
<circle cx="502.3" cy="292.9" r="2.05" fill="#2f8fd8" stroke="#245a88" stroke-width="0.8"/>
<circle cx="501.9" cy="321.7" r="2.05" fill="#2f8fd8" stroke="#245a88" stroke-width="0.8"/>
<circle cx="495.6" cy="325.8" r="2.05" fill="#2f8fd8" stroke="#245a88" stroke-width="0.8"/>
<circle cx="499.6" cy="331.9" r="2.05" fill="#2f8fd8" stroke="#245a88" stroke-width="0.8"/>
<line x1="499.0" y1="344.2" x2="499.0" y2="346.4" stroke="#666" stroke-width="0.8"/>
<text class="ax" x="499.0" y="355.4" text-anchor="middle" textLength="24.2" lengthAdjust="spacingAndGlyphs">Rectum</text>
<line x1="538.5" y1="300.4" x2="538.5" y2="332.3" stroke="#6e6e6e" stroke-width="0.8"/>
<line x1="530.2" y1="300.4" x2="546.9" y2="300.4" stroke="#707070" stroke-width="0.85"/>
<line x1="530.2" y1="332.3" x2="546.9" y2="332.3" stroke="#707070" stroke-width="0.85"/>
<rect x="522.3" y="302.1" width="32.3" height="9.4" fill="#f7f7ef" stroke="#4d4d4d" stroke-width="1.1"/>
<line x1="522.3" y1="305.2" x2="554.6" y2="305.2" stroke="#888" stroke-width="0.9"/>
<circle cx="539.6" cy="221.5" r="2.05" fill="#2f8fd8" stroke="#245a88" stroke-width="0.8"/>
<circle cx="536.9" cy="300.4" r="2.05" fill="#2f8fd8" stroke="#245a88" stroke-width="0.8"/>
<circle cx="537.1" cy="302.3" r="2.05" fill="#5bc8dc" stroke="#3a7f8a" stroke-width="0.8"/>
<circle cx="540.6" cy="303.8" r="2.05" fill="#2f8fd8" stroke="#245a88" stroke-width="0.8"/>
<circle cx="537.5" cy="305.8" r="2.05" fill="#2f8fd8" stroke="#245a88" stroke-width="0.8"/>
<circle cx="535.2" cy="307.5" r="2.05" fill="#5bc8dc" stroke="#3a7f8a" stroke-width="0.8"/>
<circle cx="540.4" cy="311.3" r="2.05" fill="#5bc8dc" stroke="#3a7f8a" stroke-width="0.8"/>
<circle cx="539.8" cy="324.0" r="2.05" fill="#2f8fd8" stroke="#245a88" stroke-width="0.8"/>
<circle cx="536.7" cy="332.3" r="2.05" fill="#2f8fd8" stroke="#245a88" stroke-width="0.8"/>
<line x1="538.5" y1="344.2" x2="538.5" y2="346.4" stroke="#666" stroke-width="0.8"/>
<text class="ax" x="538.5" y="355.4" text-anchor="middle" textLength="12.0" lengthAdjust="spacingAndGlyphs">Left</text>
<line x1="578.5" y1="284.4" x2="578.5" y2="317.9" stroke="#b4b4b4" stroke-width="1.3"/>
<line x1="570.2" y1="284.4" x2="586.7" y2="284.4" stroke="#8c8c8c" stroke-width="0.85"/>
<line x1="570.2" y1="317.9" x2="586.7" y2="317.9" stroke="#8c8c8c" stroke-width="0.85"/>
<rect x="562.3" y="284.4" width="32.3" height="24.4" fill="#f7f7ef" stroke="#4d4d4d" stroke-width="1.1"/>
<line x1="562.3" y1="305.4" x2="594.6" y2="305.4" stroke="#888" stroke-width="0.9"/>
<circle cx="576.9" cy="236.5" r="2.05" fill="#2f8fd8" stroke="#245a88" stroke-width="0.8"/>
<circle cx="581.9" cy="255.8" r="2.05" fill="#6cc24a" stroke="#457f38" stroke-width="0.8"/>
<circle cx="580.0" cy="284.8" r="2.05" fill="#2f8fd8" stroke="#245a88" stroke-width="0.8"/>
<circle cx="580.4" cy="304.8" r="2.05" fill="#2f8fd8" stroke="#245a88" stroke-width="0.8"/>
<circle cx="576.2" cy="308.8" r="2.05" fill="#2f8fd8" stroke="#245a88" stroke-width="0.8"/>
<circle cx="581.0" cy="308.5" r="2.05" fill="#2f8fd8" stroke="#245a88" stroke-width="0.8"/>
<circle cx="580.4" cy="305.8" r="2.05" fill="#2f8fd8" stroke="#245a88" stroke-width="0.8"/>
<circle cx="578.3" cy="315.0" r="2.05" fill="#2f8fd8" stroke="#245a88" stroke-width="0.8"/>
<circle cx="577.3" cy="317.9" r="2.05" fill="#2f8fd8" stroke="#245a88" stroke-width="0.8"/>
<line x1="578.5" y1="344.2" x2="578.5" y2="346.4" stroke="#666" stroke-width="0.8"/>
<text class="ax" x="578.5" y="355.4" text-anchor="middle" textLength="10.7" lengthAdjust="spacingAndGlyphs">Mid</text>
<line x1="618.1" y1="298.7" x2="618.1" y2="330.4" stroke="#b4b4b4" stroke-width="1.3"/>
<line x1="610.0" y1="298.7" x2="626.2" y2="298.7" stroke="#8c8c8c" stroke-width="0.85"/>
<line x1="610.0" y1="330.4" x2="626.2" y2="330.4" stroke="#8c8c8c" stroke-width="0.85"/>
<rect x="602.1" y="306.3" width="32.1" height="13.5" fill="#f7f7ef" stroke="#4d4d4d" stroke-width="1.1"/>
<line x1="602.1" y1="312.3" x2="634.2" y2="312.3" stroke="#888" stroke-width="0.9"/>
<circle cx="618.3" cy="298.7" r="2.05" fill="#2f8fd8" stroke="#245a88" stroke-width="0.8"/>
<circle cx="620.4" cy="306.3" r="2.05" fill="#2f8fd8" stroke="#245a88" stroke-width="0.8"/>
<circle cx="615.0" cy="308.5" r="2.05" fill="#2f8fd8" stroke="#245a88" stroke-width="0.8"/>
<circle cx="621.7" cy="319.2" r="2.05" fill="#2f8fd8" stroke="#245a88" stroke-width="0.8"/>
<circle cx="618.3" cy="320.0" r="2.05" fill="#2f8fd8" stroke="#245a88" stroke-width="0.8"/>
<circle cx="617.7" cy="330.6" r="2.05" fill="#2f8fd8" stroke="#245a88" stroke-width="0.8"/>
<line x1="618.1" y1="344.2" x2="618.1" y2="346.4" stroke="#666" stroke-width="0.8"/>
<text class="ax" x="618.1" y="355.4" text-anchor="middle" textLength="16.3" lengthAdjust="spacingAndGlyphs">Right</text>
<line x1="657.7" y1="289.8" x2="657.7" y2="338.3" stroke="#b4b4b4" stroke-width="1.3"/>
<line x1="649.6" y1="289.8" x2="665.8" y2="289.8" stroke="#8c8c8c" stroke-width="0.85"/>
<line x1="649.6" y1="338.3" x2="665.8" y2="338.3" stroke="#8c8c8c" stroke-width="0.85"/>
<rect x="641.5" y="298.1" width="32.3" height="26.7" fill="#f7f7ef" stroke="#4d4d4d" stroke-width="1.1"/>
<line x1="641.5" y1="309.4" x2="673.8" y2="309.4" stroke="#888" stroke-width="0.9"/>
<circle cx="657.7" cy="226.7" r="2.05" fill="#ffffff" stroke="#4a4a4a" stroke-width="0.8"/>
<circle cx="655.0" cy="283.5" r="2.05" fill="#b5339c" stroke="#6c205c" stroke-width="0.8"/>
<circle cx="657.3" cy="290.0" r="2.05" fill="#b5339c" stroke="#6c205c" stroke-width="0.8"/>
<circle cx="658.5" cy="297.1" r="2.05" fill="#b5339c" stroke="#6c205c" stroke-width="0.8"/>
<circle cx="654.0" cy="302.3" r="2.05" fill="#a8a8a8" stroke="#5a5a5a" stroke-width="0.8"/>
<circle cx="658.5" cy="302.3" r="2.05" fill="#b5339c" stroke="#6c205c" stroke-width="0.8"/>
<circle cx="656.2" cy="306.0" r="2.05" fill="#b5339c" stroke="#6c205c" stroke-width="0.8"/>
<circle cx="657.1" cy="310.2" r="2.05" fill="#b5339c" stroke="#6c205c" stroke-width="0.8"/>
<circle cx="654.8" cy="315.6" r="2.05" fill="#b5339c" stroke="#6c205c" stroke-width="0.8"/>
<circle cx="659.0" cy="321.9" r="2.05" fill="#b5339c" stroke="#6c205c" stroke-width="0.8"/>
<circle cx="653.8" cy="324.6" r="2.05" fill="#b5339c" stroke="#6c205c" stroke-width="0.8"/>
<circle cx="656.5" cy="325.2" r="2.05" fill="#b5339c" stroke="#6c205c" stroke-width="0.8"/>
<circle cx="654.6" cy="327.5" r="2.05" fill="#b5339c" stroke="#6c205c" stroke-width="0.8"/>
<circle cx="656.3" cy="329.4" r="2.05" fill="#b5339c" stroke="#6c205c" stroke-width="0.8"/>
<circle cx="661.3" cy="329.8" r="2.05" fill="#b5339c" stroke="#6c205c" stroke-width="0.8"/>
<circle cx="659.6" cy="338.3" r="2.05" fill="#b5339c" stroke="#6c205c" stroke-width="0.8"/>
<line x1="657.7" y1="344.2" x2="657.7" y2="346.4" stroke="#666" stroke-width="0.8"/>
<text class="ax" x="657.7" y="355.4" text-anchor="middle" textLength="16.5" lengthAdjust="spacingAndGlyphs">None</text>
<line x1="479.2" y1="215.6" x2="479.2" y2="344.59999999999997" stroke="#707070" stroke-width="1.1"/>
<line x1="478.8" y1="344.2" x2="677.7" y2="344.2" stroke="#707070" stroke-width="1.1"/>
<rect x="293.8" y="380.1" width="121.6" height="8.8" rx="4.40" fill="#1b75bc"/>
<text class="pt" x="354.6" y="386.75" text-anchor="middle" textLength="96.5" lengthAdjust="spacingAndGlyphs">Variants of interest in ERBB2</text>
<text class="pl" x="254.3" y="388.2">f</text>
<text class="vaf" x="248.2" y="400.4" text-anchor="end" textLength="12.1" lengthAdjust="spacingAndGlyphs">VAF</text>
<line x1="255.3" y1="411.5" x2="453.8" y2="411.5" stroke="#cfd4d8" stroke-width="0.8"/>
<text class="ax" x="244.3" y="414.9" text-anchor="end" textLength="6.6" lengthAdjust="spacingAndGlyphs">10</text>
<text x="245.1" y="412.3" font-size="4.2px" fill="#9a9a9a" textLength="3.2" lengthAdjust="spacingAndGlyphs">-1</text>
<line x1="255.3" y1="449.4" x2="453.8" y2="449.4" stroke="#cfd4d8" stroke-width="0.8"/>
<text class="ax" x="244.3" y="452.8" text-anchor="end" textLength="6.6" lengthAdjust="spacingAndGlyphs">10</text>
<text x="245.1" y="450.2" font-size="4.2px" fill="#9a9a9a" textLength="3.2" lengthAdjust="spacingAndGlyphs">-2</text>
<line x1="255.3" y1="487.7" x2="453.8" y2="487.7" stroke="#cfd4d8" stroke-width="0.8"/>
<text class="ax" x="244.3" y="491.1" text-anchor="end" textLength="6.6" lengthAdjust="spacingAndGlyphs">10</text>
<text x="245.1" y="488.5" font-size="4.2px" fill="#9a9a9a" textLength="3.2" lengthAdjust="spacingAndGlyphs">-3</text>
<line x1="255.3" y1="525.8" x2="453.8" y2="525.8" stroke="#cfd4d8" stroke-width="0.8"/>
<text class="ax" x="244.3" y="529.2" text-anchor="end" textLength="6.6" lengthAdjust="spacingAndGlyphs">10</text>
<text x="245.1" y="526.6" font-size="4.2px" fill="#9a9a9a" textLength="3.2" lengthAdjust="spacingAndGlyphs">-4</text>
<line x1="271.6" y1="468.8" x2="271.6" y2="512.1" stroke="#b4b4b4" stroke-width="1.3"/>
<line x1="264.8" y1="468.8" x2="278.7" y2="468.8" stroke="#8c8c8c" stroke-width="0.85"/>
<line x1="264.8" y1="512.1" x2="278.7" y2="512.1" stroke="#8c8c8c" stroke-width="0.85"/>
<rect x="258.5" y="476.5" width="26.5" height="20.6" fill="#f7f7ef" stroke="#4d4d4d" stroke-width="1.1"/>
<line x1="258.5" y1="488.5" x2="285.0" y2="488.5" stroke="#888" stroke-width="0.9"/>
<circle cx="272.7" cy="409.4" r="2.05" fill="#2f8fd8" stroke="#245a88" stroke-width="0.8"/>
<circle cx="268.5" cy="468.8" r="2.05" fill="#2f8fd8" stroke="#245a88" stroke-width="0.8"/>
<circle cx="273.1" cy="471.5" r="2.05" fill="#2f8fd8" stroke="#245a88" stroke-width="0.8"/>
<circle cx="271.4" cy="474.8" r="2.05" fill="#5bc8dc" stroke="#3a7f8a" stroke-width="0.8"/>
<circle cx="274.3" cy="477.7" r="2.05" fill="#2f8fd8" stroke="#245a88" stroke-width="0.8"/>
<circle cx="268.5" cy="478.7" r="2.05" fill="#5bc8dc" stroke="#3a7f8a" stroke-width="0.8"/>
<circle cx="274.5" cy="485.2" r="2.05" fill="#6cc24a" stroke="#457f38" stroke-width="0.8"/>
<circle cx="272.7" cy="487.9" r="2.05" fill="#2f8fd8" stroke="#245a88" stroke-width="0.8"/>
<circle cx="271.6" cy="491.0" r="2.05" fill="#2f8fd8" stroke="#245a88" stroke-width="0.8"/>
<circle cx="268.5" cy="494.4" r="2.05" fill="#6cc24a" stroke="#457f38" stroke-width="0.8"/>
<circle cx="273.3" cy="495.8" r="2.05" fill="#2f8fd8" stroke="#245a88" stroke-width="0.8"/>
<circle cx="270.4" cy="500.6" r="2.05" fill="#2f8fd8" stroke="#245a88" stroke-width="0.8"/>
<circle cx="273.7" cy="502.3" r="2.05" fill="#2f8fd8" stroke="#245a88" stroke-width="0.8"/>
<circle cx="273.7" cy="507.5" r="2.05" fill="#2f8fd8" stroke="#245a88" stroke-width="0.8"/>
<circle cx="274.3" cy="511.9" r="2.05" fill="#2f8fd8" stroke="#245a88" stroke-width="0.8"/>
<line x1="271.6" y1="536.3" x2="271.6" y2="538.5" stroke="#666" stroke-width="0.8"/>
<text class="ax" x="271.6" y="547.5" text-anchor="middle" textLength="24.2" lengthAdjust="spacingAndGlyphs">Rectum</text>
<line x1="304.7" y1="476.9" x2="304.7" y2="502.5" stroke="#6e6e6e" stroke-width="0.8"/>
<line x1="297.7" y1="476.9" x2="311.6" y2="476.9" stroke="#707070" stroke-width="0.85"/>
<line x1="297.7" y1="502.5" x2="311.6" y2="502.5" stroke="#707070" stroke-width="0.85"/>
<rect x="291.4" y="477.3" width="26.9" height="13.1" fill="#f7f7ef" stroke="#4d4d4d" stroke-width="1.1"/>
<line x1="291.4" y1="487.7" x2="318.3" y2="487.7" stroke="#888" stroke-width="0.9"/>
<circle cx="302.2" cy="434.2" r="2.05" fill="#2f8fd8" stroke="#245a88" stroke-width="0.8"/>
<circle cx="305.4" cy="465.4" r="2.05" fill="#2f8fd8" stroke="#245a88" stroke-width="0.8"/>
<circle cx="307.5" cy="477.1" r="2.05" fill="#2f8fd8" stroke="#245a88" stroke-width="0.8"/>
<circle cx="305.6" cy="477.9" r="2.05" fill="#2f8fd8" stroke="#245a88" stroke-width="0.8"/>
<circle cx="304.5" cy="487.7" r="2.05" fill="#5bc8dc" stroke="#3a7f8a" stroke-width="0.8"/>
<circle cx="305.6" cy="489.2" r="2.05" fill="#5bc8dc" stroke="#3a7f8a" stroke-width="0.8"/>
<circle cx="305.4" cy="491.2" r="2.05" fill="#2f8fd8" stroke="#245a88" stroke-width="0.8"/>
<circle cx="305.6" cy="498.3" r="2.05" fill="#2f8fd8" stroke="#245a88" stroke-width="0.8"/>
<circle cx="306.0" cy="502.7" r="2.05" fill="#2f8fd8" stroke="#245a88" stroke-width="0.8"/>
<line x1="304.7" y1="536.3" x2="304.7" y2="538.5" stroke="#666" stroke-width="0.8"/>
<text class="ax" x="304.7" y="547.5" text-anchor="middle" textLength="12.0" lengthAdjust="spacingAndGlyphs">Left</text>
<line x1="337.7" y1="460.4" x2="337.7" y2="526.5" stroke="#6e6e6e" stroke-width="0.8"/>
<line x1="331.0" y1="460.4" x2="344.7" y2="460.4" stroke="#707070" stroke-width="0.85"/>
<line x1="331.0" y1="526.5" x2="344.7" y2="526.5" stroke="#707070" stroke-width="0.85"/>
<rect x="324.5" y="469.0" width="26.7" height="27.3" fill="#f7f7ef" stroke="#4d4d4d" stroke-width="1.1"/>
<line x1="324.5" y1="488.5" x2="351.2" y2="488.5" stroke="#888" stroke-width="0.9"/>
<circle cx="335.4" cy="460.4" r="2.05" fill="#5bc8dc" stroke="#3a7f8a" stroke-width="0.8"/>
<circle cx="335.2" cy="469.0" r="2.05" fill="#2f8fd8" stroke="#245a88" stroke-width="0.8"/>
<circle cx="340.0" cy="468.5" r="2.05" fill="#2f8fd8" stroke="#245a88" stroke-width="0.8"/>
<circle cx="334.7" cy="482.9" r="2.05" fill="#2f8fd8" stroke="#245a88" stroke-width="0.8"/>
<circle cx="335.8" cy="483.5" r="2.05" fill="#5bc8dc" stroke="#3a7f8a" stroke-width="0.8"/>
<circle cx="339.5" cy="488.7" r="2.05" fill="#2f8fd8" stroke="#245a88" stroke-width="0.8"/>
<circle cx="337.5" cy="489.8" r="2.05" fill="#2f8fd8" stroke="#245a88" stroke-width="0.8"/>
<circle cx="337.0" cy="494.0" r="2.05" fill="#2f8fd8" stroke="#245a88" stroke-width="0.8"/>
<circle cx="339.1" cy="496.3" r="2.05" fill="#2f8fd8" stroke="#245a88" stroke-width="0.8"/>
<circle cx="334.5" cy="501.3" r="2.05" fill="#2f8fd8" stroke="#245a88" stroke-width="0.8"/>
<circle cx="339.3" cy="504.6" r="2.05" fill="#2f8fd8" stroke="#245a88" stroke-width="0.8"/>
<circle cx="338.9" cy="526.5" r="2.05" fill="#2f8fd8" stroke="#245a88" stroke-width="0.8"/>
<line x1="337.7" y1="536.3" x2="337.7" y2="538.5" stroke="#666" stroke-width="0.8"/>
<text class="ax" x="337.7" y="547.5" text-anchor="middle" textLength="10.7" lengthAdjust="spacingAndGlyphs">Mid</text>
<line x1="370.8" y1="478.1" x2="370.8" y2="505.0" stroke="#b4b4b4" stroke-width="1.3"/>
<line x1="364.0" y1="478.1" x2="377.7" y2="478.1" stroke="#8c8c8c" stroke-width="0.85"/>
<line x1="364.0" y1="505.0" x2="377.7" y2="505.0" stroke="#8c8c8c" stroke-width="0.85"/>
<rect x="357.5" y="481.3" width="27.1" height="15.6" fill="#f7f7ef" stroke="#4d4d4d" stroke-width="1.1"/>
<line x1="357.5" y1="491.3" x2="384.6" y2="491.3" stroke="#888" stroke-width="0.9"/>
<circle cx="373.7" cy="470.2" r="2.05" fill="#2f8fd8" stroke="#245a88" stroke-width="0.8"/>
<circle cx="371.0" cy="478.3" r="2.05" fill="#2f8fd8" stroke="#245a88" stroke-width="0.8"/>
<circle cx="368.8" cy="481.3" r="2.05" fill="#2f8fd8" stroke="#245a88" stroke-width="0.8"/>
<circle cx="371.2" cy="481.9" r="2.05" fill="#2f8fd8" stroke="#245a88" stroke-width="0.8"/>
<circle cx="371.2" cy="491.2" r="2.05" fill="#2f8fd8" stroke="#245a88" stroke-width="0.8"/>
<circle cx="370.2" cy="493.7" r="2.05" fill="#2f8fd8" stroke="#245a88" stroke-width="0.8"/>
<circle cx="370.4" cy="496.3" r="2.05" fill="#2f8fd8" stroke="#245a88" stroke-width="0.8"/>
<circle cx="373.7" cy="497.7" r="2.05" fill="#2f8fd8" stroke="#245a88" stroke-width="0.8"/>
<circle cx="370.0" cy="501.2" r="2.05" fill="#2f8fd8" stroke="#245a88" stroke-width="0.8"/>
<circle cx="370.6" cy="505.2" r="2.05" fill="#5bc8dc" stroke="#3a7f8a" stroke-width="0.8"/>
<line x1="370.8" y1="536.3" x2="370.8" y2="538.5" stroke="#666" stroke-width="0.8"/>
<text class="ax" x="370.8" y="547.5" text-anchor="middle" textLength="16.3" lengthAdjust="spacingAndGlyphs">Right</text>
<line x1="404.0" y1="474.0" x2="404.0" y2="513.3" stroke="#b4b4b4" stroke-width="1.3"/>
<line x1="397.1" y1="474.0" x2="410.8" y2="474.0" stroke="#8c8c8c" stroke-width="0.85"/>
<line x1="397.1" y1="513.3" x2="410.8" y2="513.3" stroke="#8c8c8c" stroke-width="0.85"/>
<rect x="390.6" y="480.2" width="26.9" height="17.1" fill="#f7f7ef" stroke="#4d4d4d" stroke-width="1.1"/>
<line x1="390.6" y1="493.7" x2="417.5" y2="493.7" stroke="#888" stroke-width="0.9"/>
<circle cx="405.8" cy="461.2" r="2.05" fill="#b5339c" stroke="#6c205c" stroke-width="0.8"/>
<circle cx="401.3" cy="465.4" r="2.05" fill="#ffffff" stroke="#4a4a4a" stroke-width="0.8"/>
<circle cx="402.7" cy="468.5" r="2.05" fill="#b5339c" stroke="#6c205c" stroke-width="0.8"/>
<circle cx="404.6" cy="474.0" r="2.05" fill="#b5339c" stroke="#6c205c" stroke-width="0.8"/>
<circle cx="401.2" cy="478.3" r="2.05" fill="#b5339c" stroke="#6c205c" stroke-width="0.8"/>
<circle cx="403.3" cy="480.2" r="2.05" fill="#b5339c" stroke="#6c205c" stroke-width="0.8"/>
<circle cx="401.9" cy="483.1" r="2.05" fill="#b5339c" stroke="#6c205c" stroke-width="0.8"/>
<circle cx="406.5" cy="485.2" r="2.05" fill="#b5339c" stroke="#6c205c" stroke-width="0.8"/>
<circle cx="401.7" cy="485.8" r="2.05" fill="#ffffff" stroke="#4a4a4a" stroke-width="0.8"/>
<circle cx="406.5" cy="490.4" r="2.05" fill="#a8a8a8" stroke="#5a5a5a" stroke-width="0.8"/>
<circle cx="402.5" cy="493.5" r="2.05" fill="#b5339c" stroke="#6c205c" stroke-width="0.8"/>
<circle cx="406.3" cy="494.4" r="2.05" fill="#b5339c" stroke="#6c205c" stroke-width="0.8"/>
<circle cx="401.7" cy="496.3" r="2.05" fill="#b5339c" stroke="#6c205c" stroke-width="0.8"/>
<circle cx="404.0" cy="497.1" r="2.05" fill="#b5339c" stroke="#6c205c" stroke-width="0.8"/>
<circle cx="402.5" cy="499.0" r="2.05" fill="#b5339c" stroke="#6c205c" stroke-width="0.8"/>
<circle cx="405.6" cy="500.4" r="2.05" fill="#b5339c" stroke="#6c205c" stroke-width="0.8"/>
<circle cx="405.8" cy="502.7" r="2.05" fill="#b5339c" stroke="#6c205c" stroke-width="0.8"/>
<circle cx="403.7" cy="507.1" r="2.05" fill="#b5339c" stroke="#6c205c" stroke-width="0.8"/>
<circle cx="402.3" cy="512.9" r="2.05" fill="#b5339c" stroke="#6c205c" stroke-width="0.8"/>
<line x1="404.0" y1="536.3" x2="404.0" y2="538.5" stroke="#666" stroke-width="0.8"/>
<text class="ax" x="404.0" y="547.5" text-anchor="middle" textLength="16.5" lengthAdjust="spacingAndGlyphs">None</text>
<line x1="423.5" y1="468.7" x2="450.8" y2="468.7" stroke="#8a8a8a" stroke-width="0.9"/>
<circle cx="436.5" cy="468.7" r="2.05" fill="#5bc8dc" stroke="#3a7f8a" stroke-width="0.8"/>
<line x1="437.1" y1="536.3" x2="437.1" y2="538.5" stroke="#666" stroke-width="0.8"/>
<text class="ax" x="437.1" y="547.5" text-anchor="middle" textLength="30.1" lengthAdjust="spacingAndGlyphs">Unknown</text>
<line x1="255.3" y1="403.5" x2="255.3" y2="536.6999999999999" stroke="#707070" stroke-width="1.1"/>
<line x1="254.9" y1="536.3" x2="453.8" y2="536.3" stroke="#707070" stroke-width="1.1"/>
<rect x="517.6" y="380.1" width="121.6" height="8.8" rx="4.40" fill="#1b75bc"/>
<text class="pt" x="578.4" y="386.75" text-anchor="middle" textLength="97.5" lengthAdjust="spacingAndGlyphs">Variants of interest in FBXW7</text>
<text class="pl" x="478.0" y="388.2">g</text>
<text class="vaf" x="473.1" y="400.4" text-anchor="end" textLength="12.1" lengthAdjust="spacingAndGlyphs">VAF</text>
<line x1="479.0" y1="408.5" x2="677.7" y2="408.5" stroke="#cfd4d8" stroke-width="0.8"/>
<text class="ax" x="469.2" y="411.9" text-anchor="end" textLength="6.6" lengthAdjust="spacingAndGlyphs">10</text>
<text x="470.0" y="409.3" font-size="4.2px" fill="#9a9a9a" textLength="3.2" lengthAdjust="spacingAndGlyphs">-1</text>
<line x1="479.0" y1="451.7" x2="677.7" y2="451.7" stroke="#cfd4d8" stroke-width="0.8"/>
<text class="ax" x="469.2" y="455.1" text-anchor="end" textLength="6.6" lengthAdjust="spacingAndGlyphs">10</text>
<text x="470.0" y="452.5" font-size="4.2px" fill="#9a9a9a" textLength="3.2" lengthAdjust="spacingAndGlyphs">-2</text>
<line x1="479.0" y1="495.0" x2="677.7" y2="495.0" stroke="#cfd4d8" stroke-width="0.8"/>
<text class="ax" x="469.2" y="498.4" text-anchor="end" textLength="6.6" lengthAdjust="spacingAndGlyphs">10</text>
<text x="470.0" y="495.8" font-size="4.2px" fill="#9a9a9a" textLength="3.2" lengthAdjust="spacingAndGlyphs">-3</text>
<line x1="495.6" y1="477.3" x2="495.6" y2="530.4" stroke="#6e6e6e" stroke-width="0.8"/>
<line x1="488.8" y1="477.3" x2="502.7" y2="477.3" stroke="#707070" stroke-width="0.85"/>
<line x1="488.8" y1="530.4" x2="502.7" y2="530.4" stroke="#707070" stroke-width="0.85"/>
<rect x="482.5" y="477.3" width="26.5" height="35.2" fill="#f7f7ef" stroke="#4d4d4d" stroke-width="1.1"/>
<line x1="482.5" y1="492.5" x2="509.0" y2="492.5" stroke="#888" stroke-width="0.9"/>
<circle cx="498.1" cy="426.2" r="2.05" fill="#2f8fd8" stroke="#245a88" stroke-width="0.8"/>
<circle cx="498.8" cy="430.6" r="2.05" fill="#2f8fd8" stroke="#245a88" stroke-width="0.8"/>
<circle cx="498.5" cy="437.9" r="2.05" fill="#2f8fd8" stroke="#245a88" stroke-width="0.8"/>
<circle cx="496.2" cy="442.3" r="2.05" fill="#6cc24a" stroke="#457f38" stroke-width="0.8"/>
<circle cx="498.7" cy="458.1" r="2.05" fill="#2f8fd8" stroke="#245a88" stroke-width="0.8"/>
<circle cx="496.5" cy="477.5" r="2.05" fill="#2f8fd8" stroke="#245a88" stroke-width="0.8"/>
<circle cx="494.2" cy="477.7" r="2.05" fill="#6cc24a" stroke="#457f38" stroke-width="0.8"/>
<circle cx="493.7" cy="487.1" r="2.05" fill="#2f8fd8" stroke="#245a88" stroke-width="0.8"/>
<circle cx="494.4" cy="490.0" r="2.05" fill="#5bc8dc" stroke="#3a7f8a" stroke-width="0.8"/>
<circle cx="497.9" cy="491.7" r="2.05" fill="#2f8fd8" stroke="#245a88" stroke-width="0.8"/>
<circle cx="492.7" cy="496.2" r="2.05" fill="#5bc8dc" stroke="#3a7f8a" stroke-width="0.8"/>
<circle cx="497.7" cy="501.9" r="2.05" fill="#2f8fd8" stroke="#245a88" stroke-width="0.8"/>
<circle cx="493.5" cy="508.3" r="2.05" fill="#2f8fd8" stroke="#245a88" stroke-width="0.8"/>
<circle cx="496.0" cy="511.2" r="2.05" fill="#2f8fd8" stroke="#245a88" stroke-width="0.8"/>
<circle cx="495.2" cy="514.6" r="2.05" fill="#2f8fd8" stroke="#245a88" stroke-width="0.8"/>
<circle cx="498.7" cy="515.2" r="2.05" fill="#2f8fd8" stroke="#245a88" stroke-width="0.8"/>
<circle cx="496.9" cy="518.1" r="2.05" fill="#2f8fd8" stroke="#245a88" stroke-width="0.8"/>
<circle cx="494.2" cy="519.2" r="2.05" fill="#2f8fd8" stroke="#245a88" stroke-width="0.8"/>
<circle cx="496.3" cy="530.4" r="2.05" fill="#2f8fd8" stroke="#245a88" stroke-width="0.8"/>
<line x1="495.6" y1="536.3" x2="495.6" y2="538.5" stroke="#666" stroke-width="0.8"/>
<text class="ax" x="495.6" y="547.5" text-anchor="middle" textLength="24.2" lengthAdjust="spacingAndGlyphs">Rectum</text>
<line x1="528.7" y1="483.5" x2="528.7" y2="518.3" stroke="#6e6e6e" stroke-width="0.8"/>
<line x1="521.7" y1="483.5" x2="535.6" y2="483.5" stroke="#707070" stroke-width="0.85"/>
<line x1="521.7" y1="518.3" x2="535.6" y2="518.3" stroke="#707070" stroke-width="0.85"/>
<rect x="515.4" y="486.2" width="26.9" height="21.3" fill="#f7f7ef" stroke="#4d4d4d" stroke-width="1.1"/>
<line x1="515.4" y1="496.3" x2="542.3" y2="496.3" stroke="#888" stroke-width="0.9"/>
<circle cx="529.0" cy="470.0" r="2.05" fill="#2f8fd8" stroke="#245a88" stroke-width="0.8"/>
<circle cx="529.6" cy="483.7" r="2.05" fill="#2f8fd8" stroke="#245a88" stroke-width="0.8"/>
<circle cx="527.5" cy="485.4" r="2.05" fill="#2f8fd8" stroke="#245a88" stroke-width="0.8"/>
<circle cx="525.8" cy="490.0" r="2.05" fill="#2f8fd8" stroke="#245a88" stroke-width="0.8"/>
<circle cx="527.7" cy="492.9" r="2.05" fill="#2f8fd8" stroke="#245a88" stroke-width="0.8"/>
<circle cx="526.9" cy="500.4" r="2.05" fill="#2f8fd8" stroke="#245a88" stroke-width="0.8"/>
<circle cx="530.6" cy="504.0" r="2.05" fill="#2f8fd8" stroke="#245a88" stroke-width="0.8"/>
<circle cx="526.3" cy="508.5" r="2.05" fill="#2f8fd8" stroke="#245a88" stroke-width="0.8"/>
<circle cx="530.6" cy="511.2" r="2.05" fill="#2f8fd8" stroke="#245a88" stroke-width="0.8"/>
<circle cx="526.2" cy="518.3" r="2.05" fill="#2f8fd8" stroke="#245a88" stroke-width="0.8"/>
<line x1="528.7" y1="536.3" x2="528.7" y2="538.5" stroke="#666" stroke-width="0.8"/>
<text class="ax" x="528.7" y="547.5" text-anchor="middle" textLength="12.0" lengthAdjust="spacingAndGlyphs">Left</text>
<line x1="561.7" y1="495.4" x2="561.7" y2="511.5" stroke="#b4b4b4" stroke-width="1.3"/>
<line x1="555.0" y1="495.4" x2="568.7" y2="495.4" stroke="#8c8c8c" stroke-width="0.85"/>
<line x1="555.0" y1="511.5" x2="568.7" y2="511.5" stroke="#8c8c8c" stroke-width="0.85"/>
<rect x="548.5" y="495.4" width="26.7" height="14.2" fill="#f7f7ef" stroke="#4d4d4d" stroke-width="1.1"/>
<line x1="548.5" y1="501.0" x2="575.2" y2="501.0" stroke="#888" stroke-width="0.9"/>
<circle cx="561.7" cy="479.4" r="2.05" fill="#5bc8dc" stroke="#3a7f8a" stroke-width="0.8"/>
<circle cx="559.6" cy="483.7" r="2.05" fill="#5bc8dc" stroke="#3a7f8a" stroke-width="0.8"/>
<circle cx="563.7" cy="483.5" r="2.05" fill="#2f8fd8" stroke="#245a88" stroke-width="0.8"/>
<circle cx="562.1" cy="496.0" r="2.05" fill="#2f8fd8" stroke="#245a88" stroke-width="0.8"/>
<circle cx="564.6" cy="496.9" r="2.05" fill="#5bc8dc" stroke="#3a7f8a" stroke-width="0.8"/>
<circle cx="564.4" cy="498.8" r="2.05" fill="#2f8fd8" stroke="#245a88" stroke-width="0.8"/>
<circle cx="560.6" cy="501.2" r="2.05" fill="#2f8fd8" stroke="#245a88" stroke-width="0.8"/>
<circle cx="564.2" cy="503.8" r="2.05" fill="#2f8fd8" stroke="#245a88" stroke-width="0.8"/>
<circle cx="559.6" cy="508.5" r="2.05" fill="#2f8fd8" stroke="#245a88" stroke-width="0.8"/>
<circle cx="560.4" cy="510.4" r="2.05" fill="#2f8fd8" stroke="#245a88" stroke-width="0.8"/>
<circle cx="564.4" cy="511.2" r="2.05" fill="#2f8fd8" stroke="#245a88" stroke-width="0.8"/>
<circle cx="561.3" cy="511.5" r="2.05" fill="#2f8fd8" stroke="#245a88" stroke-width="0.8"/>
<line x1="561.7" y1="536.3" x2="561.7" y2="538.5" stroke="#666" stroke-width="0.8"/>
<text class="ax" x="561.7" y="547.5" text-anchor="middle" textLength="10.7" lengthAdjust="spacingAndGlyphs">Mid</text>
<line x1="594.6" y1="492.3" x2="594.6" y2="521.3" stroke="#b4b4b4" stroke-width="1.3"/>
<line x1="587.9" y1="492.3" x2="601.7" y2="492.3" stroke="#8c8c8c" stroke-width="0.85"/>
<line x1="587.9" y1="521.3" x2="601.7" y2="521.3" stroke="#8c8c8c" stroke-width="0.85"/>
<rect x="581.3" y="496.9" width="26.9" height="10.6" fill="#f7f7ef" stroke="#4d4d4d" stroke-width="1.1"/>
<line x1="581.3" y1="501.3" x2="608.3" y2="501.3" stroke="#888" stroke-width="0.9"/>
<circle cx="596.2" cy="477.9" r="2.05" fill="#2f8fd8" stroke="#245a88" stroke-width="0.8"/>
<circle cx="592.3" cy="492.3" r="2.05" fill="#2f8fd8" stroke="#245a88" stroke-width="0.8"/>
<circle cx="594.2" cy="495.4" r="2.05" fill="#2f8fd8" stroke="#245a88" stroke-width="0.8"/>
<circle cx="591.9" cy="499.0" r="2.05" fill="#2f8fd8" stroke="#245a88" stroke-width="0.8"/>
<circle cx="596.2" cy="499.0" r="2.05" fill="#2f8fd8" stroke="#245a88" stroke-width="0.8"/>
<circle cx="597.9" cy="504.0" r="2.05" fill="#2f8fd8" stroke="#245a88" stroke-width="0.8"/>
<circle cx="594.6" cy="505.8" r="2.05" fill="#2f8fd8" stroke="#245a88" stroke-width="0.8"/>
<circle cx="594.2" cy="513.7" r="2.05" fill="#2f8fd8" stroke="#245a88" stroke-width="0.8"/>
<circle cx="594.6" cy="518.8" r="2.05" fill="#2f8fd8" stroke="#245a88" stroke-width="0.8"/>
<circle cx="595.8" cy="521.3" r="2.05" fill="#2f8fd8" stroke="#245a88" stroke-width="0.8"/>
<line x1="594.6" y1="536.3" x2="594.6" y2="538.5" stroke="#666" stroke-width="0.8"/>
<text class="ax" x="594.6" y="547.5" text-anchor="middle" textLength="16.3" lengthAdjust="spacingAndGlyphs">Right</text>
<line x1="627.9" y1="484.2" x2="627.9" y2="526.5" stroke="#b4b4b4" stroke-width="1.3"/>
<line x1="621.0" y1="484.2" x2="634.8" y2="484.2" stroke="#8c8c8c" stroke-width="0.85"/>
<line x1="621.0" y1="526.5" x2="634.8" y2="526.5" stroke="#8c8c8c" stroke-width="0.85"/>
<rect x="614.4" y="489.4" width="27.1" height="18.1" fill="#f7f7ef" stroke="#4d4d4d" stroke-width="1.1"/>
<line x1="614.4" y1="498.3" x2="641.5" y2="498.3" stroke="#888" stroke-width="0.9"/>
<circle cx="628.5" cy="413.3" r="2.05" fill="#ffffff" stroke="#4a4a4a" stroke-width="0.8"/>
<circle cx="625.6" cy="426.0" r="2.05" fill="#b5339c" stroke="#6c205c" stroke-width="0.8"/>
<circle cx="630.6" cy="464.4" r="2.05" fill="#b5339c" stroke="#6c205c" stroke-width="0.8"/>
<circle cx="625.0" cy="484.4" r="2.05" fill="#b5339c" stroke="#6c205c" stroke-width="0.8"/>
<circle cx="629.8" cy="484.4" r="2.05" fill="#b5339c" stroke="#6c205c" stroke-width="0.8"/>
<circle cx="625.8" cy="488.3" r="2.05" fill="#b5339c" stroke="#6c205c" stroke-width="0.8"/>
<circle cx="627.1" cy="489.8" r="2.05" fill="#b5339c" stroke="#6c205c" stroke-width="0.8"/>
<circle cx="627.9" cy="492.7" r="2.05" fill="#b5339c" stroke="#6c205c" stroke-width="0.8"/>
<circle cx="629.0" cy="491.7" r="2.05" fill="#ffffff" stroke="#4a4a4a" stroke-width="0.8"/>
<circle cx="630.6" cy="496.3" r="2.05" fill="#ffffff" stroke="#4a4a4a" stroke-width="0.8"/>
<circle cx="625.6" cy="499.0" r="2.05" fill="#b5339c" stroke="#6c205c" stroke-width="0.8"/>
<circle cx="628.8" cy="499.4" r="2.05" fill="#b5339c" stroke="#6c205c" stroke-width="0.8"/>
<circle cx="629.6" cy="501.2" r="2.05" fill="#b5339c" stroke="#6c205c" stroke-width="0.8"/>
<circle cx="625.2" cy="505.2" r="2.05" fill="#b5339c" stroke="#6c205c" stroke-width="0.8"/>
<circle cx="627.5" cy="505.2" r="2.05" fill="#b5339c" stroke="#6c205c" stroke-width="0.8"/>
<circle cx="629.8" cy="507.9" r="2.05" fill="#b5339c" stroke="#6c205c" stroke-width="0.8"/>
<circle cx="624.8" cy="511.7" r="2.05" fill="#b5339c" stroke="#6c205c" stroke-width="0.8"/>
<circle cx="627.7" cy="515.0" r="2.05" fill="#b5339c" stroke="#6c205c" stroke-width="0.8"/>
<circle cx="628.8" cy="521.5" r="2.05" fill="#b5339c" stroke="#6c205c" stroke-width="0.8"/>
<circle cx="625.4" cy="522.3" r="2.05" fill="#b5339c" stroke="#6c205c" stroke-width="0.8"/>
<circle cx="626.7" cy="526.5" r="2.05" fill="#b5339c" stroke="#6c205c" stroke-width="0.8"/>
<line x1="627.9" y1="536.3" x2="627.9" y2="538.5" stroke="#666" stroke-width="0.8"/>
<text class="ax" x="627.9" y="547.5" text-anchor="middle" textLength="16.5" lengthAdjust="spacingAndGlyphs">None</text>
<line x1="647.5" y1="485.4" x2="674.6" y2="485.4" stroke="#8a8a8a" stroke-width="0.9"/>
<circle cx="662.1" cy="485.4" r="2.05" fill="#2f8fd8" stroke="#245a88" stroke-width="0.8"/>
<line x1="661.2" y1="536.3" x2="661.2" y2="538.5" stroke="#666" stroke-width="0.8"/>
<text class="ax" x="661.2" y="547.5" text-anchor="middle" textLength="30.1" lengthAdjust="spacingAndGlyphs">Unknown</text>
<line x1="479.0" y1="403.5" x2="479.0" y2="536.6999999999999" stroke="#707070" stroke-width="1.1"/>
<line x1="478.6" y1="536.3" x2="677.7" y2="536.3" stroke="#707070" stroke-width="1.1"/>
<rect x="293.8" y="575.1" width="121.6" height="9.1" rx="4.55" fill="#1b75bc"/>
<text class="pt" x="354.6" y="581.90" text-anchor="middle" textLength="99.0" lengthAdjust="spacingAndGlyphs">Variants of interest in PIK3CA</text>
<text class="pl" x="254.3" y="583.5">h</text>
<text class="vaf" x="248.2" y="595.2" text-anchor="end" textLength="12.1" lengthAdjust="spacingAndGlyphs">VAF</text>
<line x1="255.3" y1="602.5" x2="453.8" y2="602.5" stroke="#cfd4d8" stroke-width="0.8"/>
<text class="ax" x="244.3" y="605.9" text-anchor="end" textLength="6.6" lengthAdjust="spacingAndGlyphs">10</text>
<text x="245.1" y="603.3" font-size="4.2px" fill="#9a9a9a" textLength="3.2" lengthAdjust="spacingAndGlyphs">-1</text>
<line x1="255.3" y1="646.2" x2="453.8" y2="646.2" stroke="#cfd4d8" stroke-width="0.8"/>
<text class="ax" x="244.3" y="649.6" text-anchor="end" textLength="6.6" lengthAdjust="spacingAndGlyphs">10</text>
<text x="245.1" y="647.0" font-size="4.2px" fill="#9a9a9a" textLength="3.2" lengthAdjust="spacingAndGlyphs">-2</text>
<line x1="255.3" y1="689.8" x2="453.8" y2="689.8" stroke="#cfd4d8" stroke-width="0.8"/>
<text class="ax" x="244.3" y="693.2" text-anchor="end" textLength="6.6" lengthAdjust="spacingAndGlyphs">10</text>
<text x="245.1" y="690.6" font-size="4.2px" fill="#9a9a9a" textLength="3.2" lengthAdjust="spacingAndGlyphs">-3</text>
<line x1="275.0" y1="637.9" x2="275.0" y2="711.3" stroke="#b4b4b4" stroke-width="1.3"/>
<line x1="267.2" y1="637.9" x2="282.9" y2="637.9" stroke="#8c8c8c" stroke-width="0.85"/>
<line x1="267.2" y1="711.3" x2="282.9" y2="711.3" stroke="#8c8c8c" stroke-width="0.85"/>
<rect x="259.3" y="639.4" width="31.9" height="51.2" fill="#f7f7ef" stroke="#4d4d4d" stroke-width="1.1"/>
<line x1="259.3" y1="657.3" x2="291.2" y2="657.3" stroke="#888" stroke-width="0.9"/>
<circle cx="272.9" cy="602.3" r="2.05" fill="#2f8fd8" stroke="#245a88" stroke-width="0.8"/>
<circle cx="275.0" cy="637.9" r="2.05" fill="#2f8fd8" stroke="#245a88" stroke-width="0.8"/>
<circle cx="272.2" cy="646.5" r="2.05" fill="#2f8fd8" stroke="#245a88" stroke-width="0.8"/>
<circle cx="273.3" cy="687.1" r="2.05" fill="#2f8fd8" stroke="#245a88" stroke-width="0.8"/>
<circle cx="273.3" cy="691.9" r="2.05" fill="#2f8fd8" stroke="#245a88" stroke-width="0.8"/>
<circle cx="272.3" cy="711.3" r="2.05" fill="#2f8fd8" stroke="#245a88" stroke-width="0.8"/>
<line x1="275.0" y1="725.2" x2="275.0" y2="727.4000000000001" stroke="#666" stroke-width="0.8"/>
<text class="ax" x="275.0" y="736.4" text-anchor="middle" textLength="24.2" lengthAdjust="spacingAndGlyphs">Rectum</text>
<line x1="314.5" y1="674.2" x2="314.5" y2="719.2" stroke="#6e6e6e" stroke-width="0.8"/>
<line x1="306.2" y1="674.2" x2="322.9" y2="674.2" stroke="#707070" stroke-width="0.85"/>
<line x1="306.2" y1="719.2" x2="322.9" y2="719.2" stroke="#707070" stroke-width="0.85"/>
<rect x="298.3" y="674.2" width="32.3" height="26.9" fill="#f7f7ef" stroke="#4d4d4d" stroke-width="1.1"/>
<line x1="298.3" y1="695.4" x2="330.6" y2="695.4" stroke="#888" stroke-width="0.9"/>
<circle cx="316.8" cy="654.0" r="2.05" fill="#2f8fd8" stroke="#245a88" stroke-width="0.8"/>
<circle cx="317.5" cy="693.8" r="2.05" fill="#2f8fd8" stroke="#245a88" stroke-width="0.8"/>
<circle cx="312.0" cy="697.5" r="2.05" fill="#2f8fd8" stroke="#245a88" stroke-width="0.8"/>
<circle cx="316.2" cy="719.4" r="2.05" fill="#2f8fd8" stroke="#245a88" stroke-width="0.8"/>
<line x1="314.5" y1="725.2" x2="314.5" y2="727.4000000000001" stroke="#666" stroke-width="0.8"/>
<text class="ax" x="314.5" y="736.4" text-anchor="middle" textLength="12.0" lengthAdjust="spacingAndGlyphs">Left</text>
<line x1="354.5" y1="669.2" x2="354.5" y2="691.5" stroke="#6e6e6e" stroke-width="0.8"/>
<line x1="346.2" y1="669.2" x2="362.7" y2="669.2" stroke="#707070" stroke-width="0.85"/>
<line x1="346.2" y1="691.5" x2="362.7" y2="691.5" stroke="#707070" stroke-width="0.85"/>
<rect x="338.3" y="673.1" width="32.3" height="10.6" fill="#f7f7ef" stroke="#4d4d4d" stroke-width="1.1"/>
<line x1="338.3" y1="677.3" x2="370.6" y2="677.3" stroke="#888" stroke-width="0.9"/>
<circle cx="352.5" cy="669.4" r="2.05" fill="#2f8fd8" stroke="#245a88" stroke-width="0.8"/>
<circle cx="357.2" cy="691.7" r="2.05" fill="#2f8fd8" stroke="#245a88" stroke-width="0.8"/>
<line x1="354.5" y1="725.2" x2="354.5" y2="727.4000000000001" stroke="#666" stroke-width="0.8"/>
<text class="ax" x="354.5" y="736.4" text-anchor="middle" textLength="10.7" lengthAdjust="spacingAndGlyphs">Mid</text>
<line x1="394.1" y1="667.9" x2="394.1" y2="708.7" stroke="#b4b4b4" stroke-width="1.3"/>
<line x1="386.0" y1="667.9" x2="402.2" y2="667.9" stroke="#8c8c8c" stroke-width="0.85"/>
<line x1="386.0" y1="708.7" x2="402.2" y2="708.7" stroke="#8c8c8c" stroke-width="0.85"/>
<rect x="378.1" y="672.5" width="32.1" height="16.3" fill="#f7f7ef" stroke="#4d4d4d" stroke-width="1.1"/>
<line x1="378.1" y1="679.0" x2="410.2" y2="679.0" stroke="#888" stroke-width="0.9"/>
<circle cx="392.5" cy="667.9" r="2.05" fill="#2f8fd8" stroke="#245a88" stroke-width="0.8"/>
<circle cx="391.2" cy="708.7" r="2.05" fill="#2f8fd8" stroke="#245a88" stroke-width="0.8"/>
<line x1="394.1" y1="725.2" x2="394.1" y2="727.4000000000001" stroke="#666" stroke-width="0.8"/>
<text class="ax" x="394.1" y="736.4" text-anchor="middle" textLength="16.3" lengthAdjust="spacingAndGlyphs">Right</text>
<line x1="433.7" y1="689.6" x2="433.7" y2="710.0" stroke="#b4b4b4" stroke-width="1.3"/>
<line x1="425.6" y1="689.6" x2="441.8" y2="689.6" stroke="#8c8c8c" stroke-width="0.85"/>
<line x1="425.6" y1="710.0" x2="441.8" y2="710.0" stroke="#8c8c8c" stroke-width="0.85"/>
<rect x="417.5" y="696.2" width="32.3" height="12.3" fill="#f7f7ef" stroke="#4d4d4d" stroke-width="1.1"/>
<line x1="417.5" y1="702.3" x2="449.8" y2="702.3" stroke="#888" stroke-width="0.9"/>
<circle cx="433.5" cy="689.6" r="2.05" fill="#b5339c" stroke="#6c205c" stroke-width="0.8"/>
<circle cx="432.2" cy="699.0" r="2.05" fill="#b5339c" stroke="#6c205c" stroke-width="0.8"/>
<circle cx="430.4" cy="707.5" r="2.05" fill="#b5339c" stroke="#6c205c" stroke-width="0.8"/>
<circle cx="437.2" cy="710.0" r="2.05" fill="#b5339c" stroke="#6c205c" stroke-width="0.8"/>
<line x1="433.7" y1="725.2" x2="433.7" y2="727.4000000000001" stroke="#666" stroke-width="0.8"/>
<text class="ax" x="433.7" y="736.4" text-anchor="middle" textLength="16.5" lengthAdjust="spacingAndGlyphs">None</text>
<line x1="255.3" y1="596.2" x2="255.3" y2="725.6" stroke="#707070" stroke-width="1.1"/>
<line x1="254.9" y1="725.2" x2="453.8" y2="725.2" stroke="#707070" stroke-width="1.1"/>
<text class="vaf" x="354.6" y="751.3" text-anchor="middle" textLength="12.6" lengthAdjust="spacingAndGlyphs">Site</text>
<rect x="517.6" y="575.1" width="121.6" height="9.1" rx="4.55" fill="#1b75bc"/>
<text class="pt" x="578.4" y="581.90" text-anchor="middle" textLength="98.0" lengthAdjust="spacingAndGlyphs">Variants of interest in SMAD4</text>
<text class="pl" x="478.0" y="583.5">i</text>
<text class="vaf" x="473.1" y="595.2" text-anchor="end" textLength="12.1" lengthAdjust="spacingAndGlyphs">VAF</text>
<line x1="479.0" y1="624.8" x2="677.7" y2="624.8" stroke="#cfd4d8" stroke-width="0.8"/>
<text class="ax" x="469.2" y="628.2" text-anchor="end" textLength="6.6" lengthAdjust="spacingAndGlyphs">10</text>
<text x="470.0" y="625.6" font-size="4.2px" fill="#9a9a9a" textLength="3.2" lengthAdjust="spacingAndGlyphs">-1</text>
<line x1="479.0" y1="657.5" x2="677.7" y2="657.5" stroke="#cfd4d8" stroke-width="0.8"/>
<text class="ax" x="469.2" y="660.9" text-anchor="end" textLength="6.6" lengthAdjust="spacingAndGlyphs">10</text>
<text x="470.0" y="658.3" font-size="4.2px" fill="#9a9a9a" textLength="3.2" lengthAdjust="spacingAndGlyphs">-2</text>
<line x1="479.0" y1="690.4" x2="677.7" y2="690.4" stroke="#cfd4d8" stroke-width="0.8"/>
<text class="ax" x="469.2" y="693.8" text-anchor="end" textLength="6.6" lengthAdjust="spacingAndGlyphs">10</text>
<text x="470.0" y="691.2" font-size="4.2px" fill="#9a9a9a" textLength="3.2" lengthAdjust="spacingAndGlyphs">-3</text>
<line x1="479.0" y1="723.5" x2="677.7" y2="723.5" stroke="#cfd4d8" stroke-width="0.8"/>
<text class="ax" x="469.2" y="726.9" text-anchor="end" textLength="6.6" lengthAdjust="spacingAndGlyphs">10</text>
<text x="470.0" y="724.3" font-size="4.2px" fill="#9a9a9a" textLength="3.2" lengthAdjust="spacingAndGlyphs">-4</text>
<line x1="495.6" y1="623.1" x2="495.6" y2="655.6" stroke="#b4b4b4" stroke-width="1.3"/>
<line x1="488.8" y1="623.1" x2="502.7" y2="623.1" stroke="#8c8c8c" stroke-width="0.85"/>
<line x1="488.8" y1="655.6" x2="502.7" y2="655.6" stroke="#8c8c8c" stroke-width="0.85"/>
<rect x="482.5" y="627.9" width="26.5" height="21.7" fill="#f7f7ef" stroke="#4d4d4d" stroke-width="1.1"/>
<line x1="482.5" y1="634.8" x2="509.0" y2="634.8" stroke="#888" stroke-width="0.9"/>
<circle cx="494.2" cy="623.1" r="2.05" fill="#2f8fd8" stroke="#245a88" stroke-width="0.8"/>
<circle cx="497.3" cy="623.7" r="2.05" fill="#2f8fd8" stroke="#245a88" stroke-width="0.8"/>
<circle cx="493.5" cy="630.0" r="2.05" fill="#6cc24a" stroke="#457f38" stroke-width="0.8"/>
<circle cx="495.8" cy="632.7" r="2.05" fill="#2f8fd8" stroke="#245a88" stroke-width="0.8"/>
<circle cx="493.8" cy="638.3" r="2.05" fill="#2f8fd8" stroke="#245a88" stroke-width="0.8"/>
<circle cx="496.5" cy="649.4" r="2.05" fill="#2f8fd8" stroke="#245a88" stroke-width="0.8"/>
<circle cx="495.2" cy="650.8" r="2.05" fill="#2f8fd8" stroke="#245a88" stroke-width="0.8"/>
<circle cx="494.4" cy="655.8" r="2.05" fill="#2f8fd8" stroke="#245a88" stroke-width="0.8"/>
<line x1="495.6" y1="725.2" x2="495.6" y2="727.4000000000001" stroke="#666" stroke-width="0.8"/>
<text class="ax" x="495.6" y="736.4" text-anchor="middle" textLength="24.2" lengthAdjust="spacingAndGlyphs">Rectum</text>
<line x1="515.4" y1="694.2" x2="542.3" y2="694.2" stroke="#8a8a8a" stroke-width="0.9"/>
<circle cx="531.0" cy="694.2" r="2.05" fill="#2f8fd8" stroke="#245a88" stroke-width="0.8"/>
<line x1="528.7" y1="725.2" x2="528.7" y2="727.4000000000001" stroke="#666" stroke-width="0.8"/>
<text class="ax" x="528.7" y="736.4" text-anchor="middle" textLength="12.0" lengthAdjust="spacingAndGlyphs">Left</text>
<line x1="548.5" y1="705.8" x2="575.2" y2="705.8" stroke="#8a8a8a" stroke-width="0.9"/>
<circle cx="563.8" cy="705.8" r="2.05" fill="#2f8fd8" stroke="#245a88" stroke-width="0.8"/>
<line x1="561.7" y1="725.2" x2="561.7" y2="727.4000000000001" stroke="#666" stroke-width="0.8"/>
<text class="ax" x="561.7" y="736.4" text-anchor="middle" textLength="10.7" lengthAdjust="spacingAndGlyphs">Mid</text>
<rect x="581.3" y="712.0" width="26.9" height="1.0" fill="#808080" stroke="#505050" stroke-width="1.1"/>
<circle cx="595.0" cy="711.7" r="2.05" fill="#2f8fd8" stroke="#245a88" stroke-width="0.8"/>
<circle cx="593.8" cy="713.3" r="2.05" fill="#2f8fd8" stroke="#245a88" stroke-width="0.8"/>
<line x1="594.6" y1="725.2" x2="594.6" y2="727.4000000000001" stroke="#666" stroke-width="0.8"/>
<text class="ax" x="594.6" y="736.4" text-anchor="middle" textLength="16.3" lengthAdjust="spacingAndGlyphs">Right</text>
<rect x="614.4" y="704.4" width="27.1" height="1.9" fill="#808080" stroke="#505050" stroke-width="1.1"/>
<circle cx="630.4" cy="638.3" r="2.05" fill="#b5339c" stroke="#6c205c" stroke-width="0.8"/>
<circle cx="625.0" cy="702.9" r="2.05" fill="#b5339c" stroke="#6c205c" stroke-width="0.8"/>
<circle cx="630.8" cy="705.2" r="2.05" fill="#b5339c" stroke="#6c205c" stroke-width="0.8"/>
<circle cx="626.3" cy="707.3" r="2.05" fill="#b5339c" stroke="#6c205c" stroke-width="0.8"/>
<circle cx="629.8" cy="719.2" r="2.05" fill="#b5339c" stroke="#6c205c" stroke-width="0.8"/>
<line x1="627.9" y1="725.2" x2="627.9" y2="727.4000000000001" stroke="#666" stroke-width="0.8"/>
<text class="ax" x="627.9" y="736.4" text-anchor="middle" textLength="16.5" lengthAdjust="spacingAndGlyphs">None</text>
<line x1="647.5" y1="602.3" x2="674.6" y2="602.3" stroke="#8a8a8a" stroke-width="0.9"/>
<circle cx="659.6" cy="602.3" r="2.05" fill="#2f8fd8" stroke="#245a88" stroke-width="0.8"/>
<line x1="661.2" y1="725.2" x2="661.2" y2="727.4000000000001" stroke="#666" stroke-width="0.8"/>
<text class="ax" x="661.2" y="736.4" text-anchor="middle" textLength="30.1" lengthAdjust="spacingAndGlyphs">Unknown</text>
<line x1="479.0" y1="596.2" x2="479.0" y2="725.6" stroke="#707070" stroke-width="1.1"/>
<line x1="478.6" y1="725.2" x2="677.7" y2="725.2" stroke="#707070" stroke-width="1.1"/>
<text class="vaf" x="578.4" y="751.3" text-anchor="middle" textLength="12.6" lengthAdjust="spacingAndGlyphs">Site</text>
<text class="hl" x="309.9" y="769.0" textLength="33.3" lengthAdjust="spacingAndGlyphs">Category</text>
<circle cx="354.0" cy="766.8" r="2.9" fill="#b5339c" stroke="#6c205c" stroke-width="0.6"/>
<text class="lg" x="363.0" y="769.3" textLength="23.6" lengthAdjust="spacingAndGlyphs">Control</text>
<circle cx="401.3" cy="766.8" r="2.9" fill="#5bc8dc" stroke="#3a7f8a" stroke-width="0.6"/>
<text class="lg" x="410.0" y="769.3" textLength="31.0" lengthAdjust="spacingAndGlyphs">E-Polyps+</text>
<circle cx="456.2" cy="766.8" r="2.9" fill="#6cc24a" stroke="#457f38" stroke-width="0.6"/>
<text class="lg" x="465.0" y="769.3" textLength="30.0" lengthAdjust="spacingAndGlyphs">L-Polyps+</text>
<circle cx="510.7" cy="766.8" r="2.9" fill="#2f8fd8" stroke="#245a88" stroke-width="0.6"/>
<text class="lg" x="519.5" y="769.3" textLength="16.5" lengthAdjust="spacingAndGlyphs">CRC+</text>
<circle cx="550.4" cy="766.8" r="2.9" fill="#ffffff" stroke="#4a4a4a" stroke-width="0.6"/>
<text class="lg" x="558.9" y="769.3" textLength="27.4" lengthAdjust="spacingAndGlyphs">No CRC+</text>
<circle cx="600.9" cy="766.8" r="2.9" fill="#a8a8a8" stroke="#5a5a5a" stroke-width="0.6"/>
<text class="lg" x="609.4" y="769.3" textLength="27.4" lengthAdjust="spacingAndGlyphs">C+ Other</text>
</svg></body></html>
